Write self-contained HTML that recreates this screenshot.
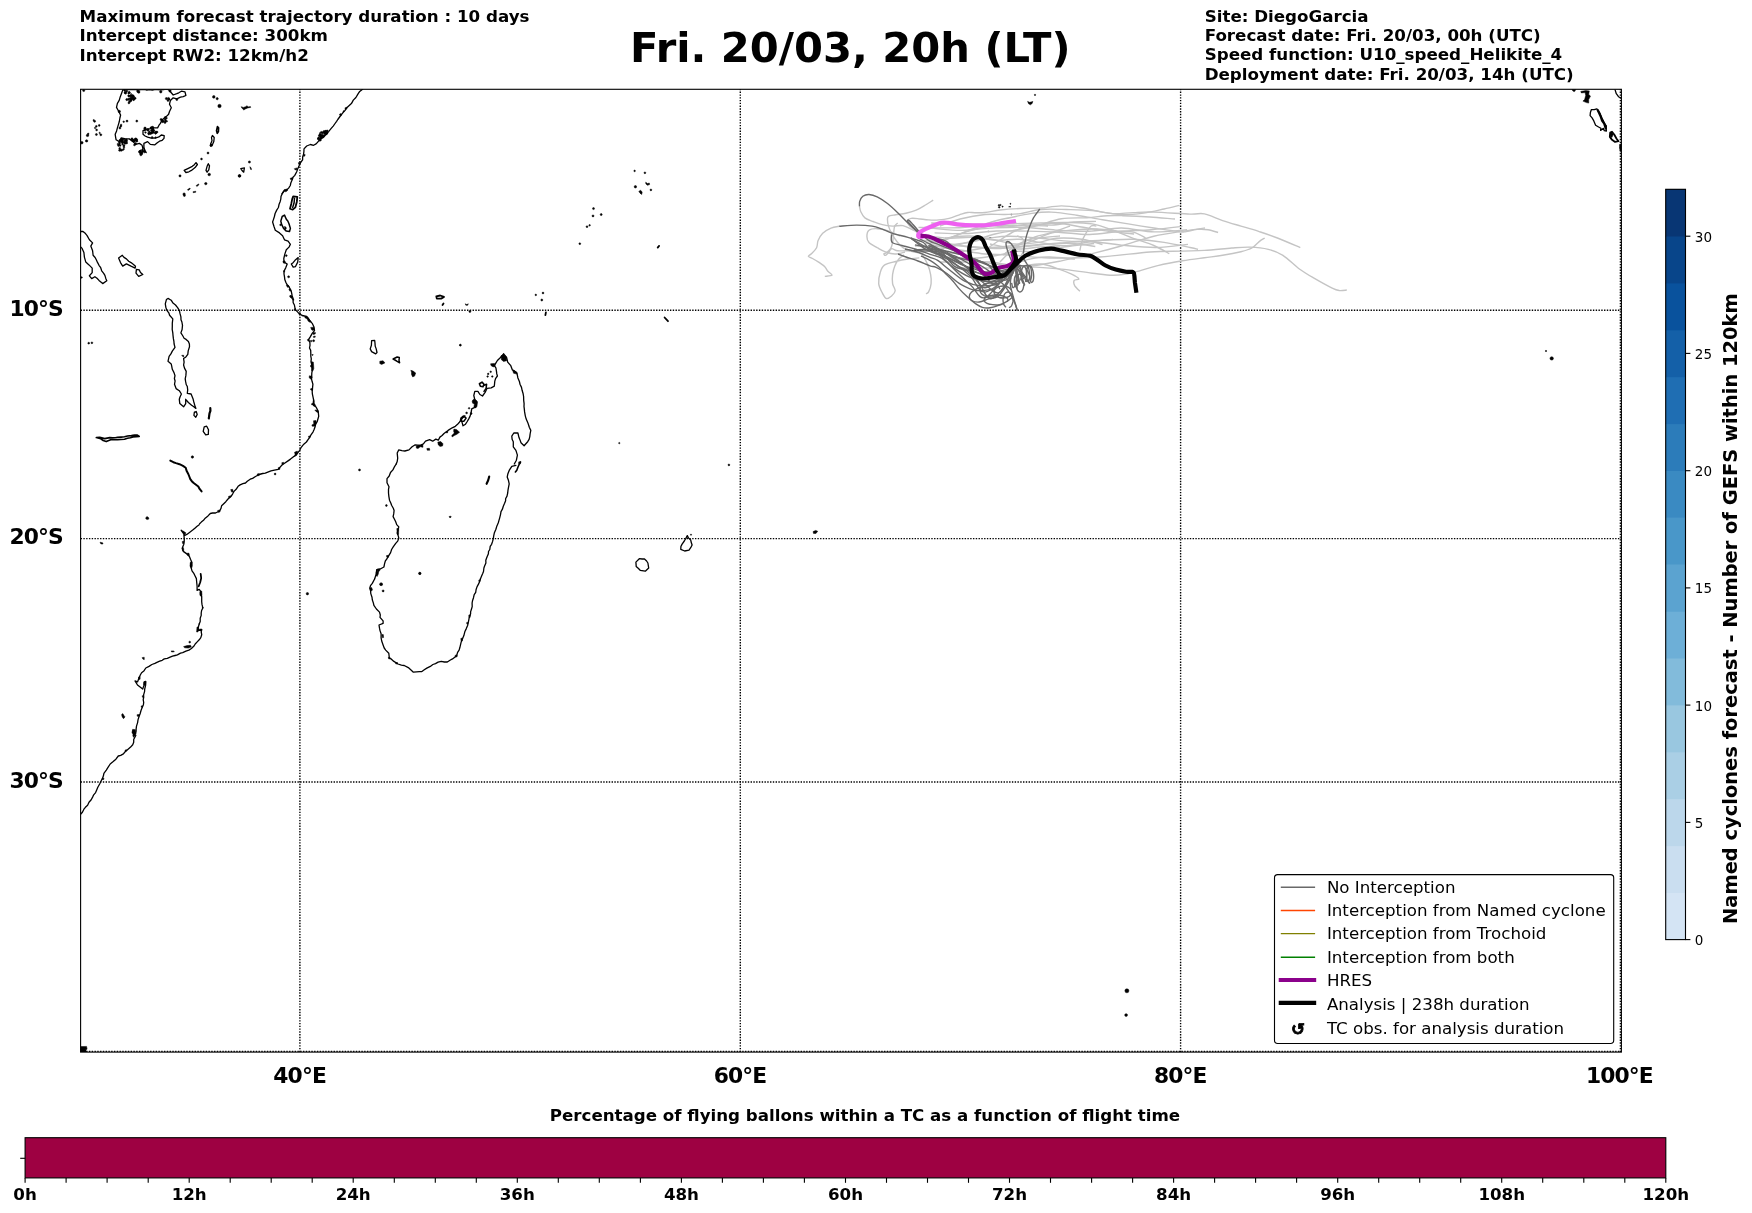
<!DOCTYPE html>
<html lang="en"><head><meta charset="utf-8"><title>Fri. 20/03, 20h (LT)</title>
<style>html,body{margin:0;padding:0;background:#fff}body{width:1752px;height:1213px;overflow:hidden}svg{display:block;will-change:transform;opacity:0.999}text{font-family:"DejaVu Sans","Liberation Sans",sans-serif;fill:#000}.b{font-weight:bold}</style>
</head><body>
<svg width="1752" height="1213" viewBox="0 0 1752 1213">
<rect width="1752" height="1213" fill="#fff"/>
<g class="b" font-size="16.71">
<text x="79.6" y="22.0">Maximum forecast trajectory duration : 10 days</text>
<text x="79.6" y="40.9">Intercept distance: 300km</text>
<text x="79.6" y="61.0">Intercept RW2: 12km/h2</text>
<text x="1204.7" y="22.0">Site: DiegoGarcia</text>
<text x="1204.7" y="40.8">Forecast date: Fri. 20/03, 00h (UTC)</text>
<text x="1204.7" y="60.0">Speed function: U10_speed_Helikite_4</text>
<text x="1204.7" y="80.0">Deployment date: Fri. 20/03, 14h (UTC)</text>
</g>
<text class="b" font-size="41.67" x="629.9" y="62">Fri. 20/03, 20h (LT)</text>
<clipPath id="ax"><rect x="80.6" y="89.3" width="1540.8" height="962.8"/></clipPath>
<g clip-path="url(#ax)">
<g fill="none" stroke="#000" stroke-width="1.3" stroke-linejoin="round" stroke-linecap="round">
<path d="M122.9 89.6 L121.6 93.2 L120.2 96.9 L119.2 100.4 L117.4 103.3 L116.5 107.4 L118.8 111.5 L120.6 115.1 L119.9 118 L119.3 121.5 L118.4 124.6 L117.4 127.9 L116.6 130.9 L115.2 134.3 L115.6 137.1 L116.1 139.8 L119.3 141.6 L121.1 138 L125.7 138.9 L129.3 138.9 L133 141.6 L135.7 144.4 L139.4 143.4 L142.1 145.3 L143 148.9 L142.1 151.7 L140.3 154.4 L143.9 150.8 L146.2 152.6 L144.8 150.1 L143.9 147.1 L143.9 143.4 L147.6 141.6 L150.3 144.4 L154.9 144.8 L157.3 142.7 L159.5 141.2 L162.2 140.3 L164 138.4 L164.2 135.7 L161.3 135 L158.9 136.9 L155.8 138 L151.2 138.2 L147.6 137.1 L145.1 136 L143 134.3 L143 130.7 L147.6 128.8 L150.8 128.6 L153.1 127.9 L157.6 127.9 L159 125.2 L160.4 123.4 L162.2 119.7 L164.4 118 L166.8 116.1 L168.6 114.3 L169.5 111.5 L171.3 107.8 L169.5 104.2 L170.4 100.5 L173.2 97.8 L176.8 98.9 L180.5 97.1 L183.2 96.7 L185.9 95.5 L185 91.8 L181.4 91.2 L178.8 92.8 L176.8 93.7 L173.2 95 L170.4 91.8 L168.6 89.6 L166 89.1 L163.5 89.5 L160.9 89.8 L157.3 89.6 L155.6 89.3 L152.3 90 L149.4 89.7 L146.8 90.1 L144.7 89.5 L141.3 89.4 L139 90.1 L135.9 89.7 L133.9 89.7 L131.3 89.6 L128.8 89.7 L125.7 89.5Z"/>
<path d="M217.4 126.6 L218.6 127.9 L218.4 131.6 L217.3 133.4 L216.5 130.7Z" stroke-width="1.6"/>
<path d="M212.4 135.5 L214.2 137.5 L213.8 141.6 L212.4 144.8 L210.8 146 L210.6 143.9 L212 140.7 L211.5 137.5Z"/>
<path d="M184.1 170.4 L187.8 168.6 L192.3 166.3 L194.3 164.7 L196 162.6 L197.4 164.5 L195.1 167.6 L191.4 170.4 L188.9 171.8 L185.9 172.5Z"/>
<path d="M208.3 163.7 L209.5 165.8 L208.8 169.9 L207.1 172.2 L206 170.4 L207.1 166.3Z"/>
<path d="M362.6 89.2 L359.7 91.4 L357.9 94.1 L355.9 97.5 L353.3 100.1 L351.4 103.6 L348.7 106 L346.5 107.9 L345.1 110.4 L343.2 112.4 L341.1 115 L339.6 117 L337.8 119.5 L336.6 121.3 L334.7 124 L333.2 126.1 L331 128.6 L328.6 131.6 L326.4 134.2 L323.2 137.1 L320.2 139.2 L317.7 142.1 L316.1 143.9 L313.6 145.3 L310.4 144.5 L306.7 146 L304 148.9 L303.9 151.7 L303.5 154.4 L302.7 156.6 L302.6 159.9 L299.9 163.5 L298.8 166.6 L297.6 169 L296.7 171.8 L294.8 175.4 L293 177.2 L292.1 180 L290.8 183 L290.3 185.5 L288.6 188.1 L286.6 190 L283.9 190.9 L282.1 193.7"/>
<path d="M240.8 168.6 L244.4 167.9 L243.7 172.2 L242.3 170.8Z" stroke-width="1.3"/>
<path d="M284.9 190 L282.2 193.7 L281 196.6 L280.8 199.1 L280.2 201.4 L279 204.6 L278.4 207.5 L276.7 210.1 L275.1 213.5 L274.4 216.5 L273.6 219.1 L272.6 222 L274 226.5 L275.3 230.2 L279.5 232.9 L282.6 235.7 L284.5 239.8 L288.1 241.1 L290.4 244.3 L289 247.1 L286.3 249.8 L284.9 253.9 L283.8 258.5 L284 262.1 L287.2 264 L285.8 267.6 L284 271.3 L284 274 L284.5 276.8 L284.8 279.6 L285.8 282.2 L287.2 284.9 L289 286.8 L291.3 291.4 L292.2 295.9 L293.6 300"/>
<path d="M293.2 196.4 L297.3 196.8 L296.8 201.9 L296.1 204.6 L295.4 207.4 L292.7 209.6 L290 208.7 L291.3 203.7 L292.2 199.1Z" stroke-width="1.8"/>
<path d="M294.5 198.2 L294.1 202.8 L292.7 207.4" stroke-width="1.5"/>
<path d="M282.2 216.5 L284.5 215.1 L286.3 219.2 L287.8 221 L289 223.8 L290.4 228.4 L289.5 231.6 L286.3 231.1 L283.6 228.4 L281.7 224.7 L280.8 221.1Z" stroke-width="1.5"/>
<path d="M291.3 264 L293.1 262.7 L295 260.3 L298.2 257.6 L297.7 262.1 L295.4 266.7 L293.2 267.2Z"/>
<path d="M290.3 295.9 L293 299.6 L293.2 302.7 L294.4 305 L295.3 309.6 L298 312.4 L302.1 315.5 L306.7 316.5 L309.5 320.1 L312.2 323.3 L314 327 L314.5 330.6 L312.2 333.4 L310.4 336.6 L308.5 339.7 L309.9 342.5 L310 345.4 L309.5 348 L310.7 350.4 L310.8 353.4 L310.8 356.2 L311.3 358.9 L311 361.3 L311.7 364.4 L312.1 368.1 L312.2 370.8 L311.8 373 L311.7 376.3 L311.5 379 L312.2 381.8 L312.9 384.1 L312.6 387.2 L312.2 391.8 L312.4 394.2 L313.1 397.3 L314 401.8 L313.6 405"/>
<path d="M371.6 340.7 L374.7 340.5 L375 343.2 L375.2 346.1 L376.2 348.9 L377 352.5 L375.7 353.9 L371.6 351.6 L370.2 348.9 L371.4 345.2Z"/>
<path d="M313.6 400 L313.1 404.1 L316.2 407.2 L318.2 411.3 L318.7 416.4 L318 418.8 L317.2 421.6 L315.7 423.8 L315.1 426.7 L314.2 429.3 L313.1 431.8 L311 434.8 L310 437 L308.4 439.2 L306.4 442 L303.8 444.2 L301.2 447.3 L299.7 450.3 L297.5 453.1 L295.6 455.5 L293.2 456.9 L290.5 459.1 L288.4 460.6 L284.9 463 L282.3 464.7 L280.3 466.9 L278.2 469.3 L274.4 470.1 L271 470.9 L267.8 472.1 L265.3 473.2 L262.7 473.5 L259.1 474.5 L255.5 476.5 L252.6 478.4 L250.2 479.2 L247.3 481.2 L245.5 483 L242.9 483.7 L240.1 484.9 L238.1 486.3 L236.1 489.3 L234 491.4 L232.7 493.8 L230.9 496.6 L228 499 L225.8 501.7 L224 503.5 L221.6 505.8 L221 508.4 L219.6 511 L215.5 513 L212.6 513 L210.3 513.5 L208 515.9 L205.2 518.2 L203.5 520.3 L201.3 522.1 L199.6 523.7"/>
<path d="M194.4 412.1 L196.2 411.5 L197.2 414.4 L195.8 417.3 L193.9 415.4Z"/>
<path d="M210.3 408.2 L210.4 410.8 L209.5 413.4 L208.8 418.5" stroke-width="2.2"/>
<path d="M204.2 426.9 L206.7 426.2 L208.5 429.8 L208.3 434.4 L205.7 434.9 L203.2 431.3Z"/>
<path d="M170.3 460.6 L173.4 462.2 L176 463.1 L179.5 464.2 L183 465.9 L185.7 467.8 L186.7 471.1 L188.3 474 L189.3 476.5 L190.3 479.1 L191.8 481.2 L193.4 482.8 L196 484.8 L198.3 486.5 L199.6 488.9 L201.6 491.4" stroke-width="2.0"/>
<path d="M199.2 524.7 L196.8 526.5 L195.2 527.9 L193 529.8 L189.5 532.4 L186.8 534.4 L184.8 535.4 L182.7 531.8 L181.2 530.3 L183.8 533.9 L184.3 539 L184.2 541.3 L183.8 544.2 L182.2 548.3 L183.3 551.4 L186.8 553.9 L189.4 556.5 L190.5 559.3 L191.5 561.6 L190.4 565.8 L191.4 568.7 L192 570.9 L194 573.7 L195.1 576 L196.4 578.6 L196.6 581.2 L197.1 586.3 L197.1 590.4 L199.2 589.4 L200.7 591.4 L200.9 594.5 L201.7 596.6 L201.7 601.7 L202 604.4 L202.8 607.9 L201.6 610.5 L201.2 613 L201.2 615.4 L200.2 618.2 L200.2 621.5 L199.2 624"/>
<path d="M200.7 574 L201.2 578.1 L200.2 582.2 L198.7 586.3" stroke-width="1.8"/>
<path d="M199.2 624 L198.2 627.7 L198.2 630.5 L201.7 629.5 L201.2 631.9 L201.7 634.7 L200.8 637.6 L199.2 639.8 L197.2 641.9 L195.2 644 L194 646 L191.4 648.5 L188.9 650.1 L185.9 651.1 L182.7 652.6 L180.5 653.1 L177.4 654.9 L175.1 655.5 L172.5 656.2 L170.1 657.2 L167.3 658.4 L164.3 658.9 L162.2 660.3 L159.7 661.2 L156.9 662.4 L154.9 663.4 L151.9 664.5 L149 666.4 L145.8 668 L144.1 670.7 L141.6 672.7 L140.3 675 L139.1 677.8 L137.5 681.9 L135 680.9 L137.5 685 L140.1 687 L142.7 689.1 L143.9 685.4 L144.2 681.9 L145.8 681.4 L145.6 685.4 L144.7 689.1 L144.6 691.3 L143.6 694.9 L143.7 697.3 L143.2 699.6 L143.7 702.5 L143.4 704.7 L142.2 707.6 L141.1 710.3 L140.1 713.8 L138.8 717.2 L138 719.9 L137.6 722.6 L136.5 726.1 L136.1 729.2 L136.1 731 L135.5 734"/>
<path d="M135.8 735.4 L133.7 739.5 L133.7 742.2 L132.7 744.7 L130.6 747.1 L127.5 749.8 L124.9 752 L123.4 753.9 L120.7 755.4 L118.3 756 L115.9 759.2 L113.2 761.6 L110.2 764 L108 767.3 L106.3 770.1 L103.9 773.4 L103.5 775.5 L102.4 778.6 L101.2 780.7 L99.8 783.7 L97.8 787.3 L96.7 789.9 L95.6 792.6 L93.7 794.8 L92.6 797.1 L91.2 799.7 L89 802.2 L87.6 805.2 L85.4 807.3 L83.9 809.2 L82.4 812.2 L80.8 814"/>
<path d="M80.6 231.5 L83 231.5 L85.5 233.6 L87.1 235.6 L89.4 239.7 L92.6 242.9 L90.8 246.1 L92.6 250.7 L93.1 255.3 L95.1 257.5 L96.3 259.8 L97.5 262.4 L99 265.3 L100.7 267.7 L101.7 270.8 L103.7 273.4 L104.9 275.4 L105.8 278.4 L106.8 280.8 L102.7 283.6 L99 280.4 L97 278.2 L94.9 276.7 L91.7 278.6 L89.4 275.8 L92.2 272.6 L92.2 268.1 L89 264.9 L85.8 262.1 L84.4 257.1 L83.9 252.5 L82.1 248.4 L80.6 246.9"/>
<path d="M118.6 258 L122.3 255.3 L124 257.4 L126.4 258.9 L128.7 261.2 L131 262.6 L133.5 264.5 L135.5 266.2 L135.1 268.1 L131 266.2 L126.4 263.9 L122.7 266.1 L120.5 262.6Z"/>
<path d="M136.4 269.4 L139.2 269.9 L140.5 272.5 L142.8 274.5 L138.7 276.3 L136 273.1Z"/>
<path d="M168 298.4 L171.2 300.2 L173 303.1 L175.5 305 L177.6 307.6 L179.3 310.4 L180.1 313.9 L180.9 316.8 L181 319.8 L181.9 322 L182.5 325.4 L182.1 329.5 L180.9 332.9 L182.9 336 L184.1 338.2 L186.1 339.4 L188.4 341.4 L189.4 343.9 L189.5 346.8 L188.2 350.9 L187.8 354.3 L185.9 356.9 L183.6 358.6 L184.1 362.2 L183.6 365 L184.5 368.1 L186.2 371.4 L185.9 375.4 L185.2 378.9 L185.6 381.4 L186.2 384.5 L187.3 386.5 L187.7 389.9 L187.3 393.4 L191.1 394 L192.3 397 L193 398.7 L193.7 401.5 L194.7 405.1 L195.9 408.4 L193.5 406.5 L191.6 405.2 L188.4 402.5 L185.7 399.3 L185.7 403.6 L183.6 406.8 L179.8 403.6 L179.3 399.3 L180 397 L181.4 394 L179.3 390.7 L176.1 388.6 L174.5 384.3 L175.1 381 L174.4 378.5 L175 375.7 L174 372.6 L172.3 369.3 L171.7 366.1 L171.2 363.9 L168 361.3 L169.1 356.4 L170.9 353.9 L172.3 351.1 L175 347.3 L174.1 344 L173.9 341.4 L173.4 338.7 L173 335.3 L172.8 332.9 L172.2 329.4 L172.3 326.3 L172.3 323.2 L172.8 318.9 L169.6 315.2 L168.8 312.8 L166.9 310.4 L165.9 307.6 L165.3 303.9 L166.4 299.6Z"/>
<path d="M96.3 437.6 L100.8 438.8 L103.2 440.5 L106.2 441.6 L110.7 439.8 L114.6 439.7 L117.6 439.8 L120.6 439.5 L124.5 439.2 L127.4 438.2 L130.4 437.8 L133 436.9 L136.4 436.8 L139.3 436.4 L137.4 435.1 L134.6 435 L131.4 435.6 L127.5 436 L124.5 436.8 L121.1 437.1 L117.6 437.4 L115.3 437.8 L112.5 437.9 L109.7 437.6 L104.7 438.6 L99.8 437.4Z" stroke-width="1.6"/>
<path d="M503.6 353.9 L506.6 357.5 L507.7 362.1 L510.8 365.7 L512.3 369.8 L514.5 370.9 L516.9 372.9 L517.9 378 L519.4 381.5 L520 384.2 L521.5 387.4 L522.1 390.3 L523 393.2 L523.6 396.5 L523.7 400.3 L524.1 403.7 L524 406.5 L524.3 408.9 L524.6 411.9 L525.3 415.8 L526.2 419.1 L527.7 422.4 L528.7 425.3 L529.3 427.3 L530.8 430.4 L530.1 434 L529.8 436.6 L529.1 439.4 L527.7 441.7 L526.1 443.5 L524.1 445.8 L521 442.7 L520 439.9 L519 437.6 L517.9 433 L513.8 433 L511.8 436.1 L512.1 439.3 L513.3 441.7 L513.3 446.8 L515.9 450.4 L517.4 455.1 L516.4 460.2 L514.3 464"/>
<path d="M503.6 353.9 L500.5 357.5 L497.4 360.5 L496.1 362.6 L494.3 365.7 L495.9 367.8 L496.4 370.8 L496.8 373.9 L497.4 376 L495.7 378.3 L494.8 381.1 L494.3 386.2 L491.2 387.8 L487.1 388.3 L485.1 392.4 L482.5 396 L479.9 394.5 L477.9 391.4 L474.8 391.4 L473.8 395.5 L474.8 399.6 L476.8 401.6 L476.5 404 L475.8 406.8 L471.7 408.8 L471.4 411 L470.7 414 L470 416.4 L468.6 419.1 L466.9 422 L465.5 424.2 L463 425.8 L462 422.2 L460.4 420.1 L462.5 416.5 L465 416 L462.5 418.1 L459.4 422.2 L457.3 424.6 L455.3 426.3 L452.2 427.8 L448.1 430.4 L444 433.5 L442.1 435.5 L439.9 437.1 L438.3 440.2 L435.8 439.1 L432.7 441.2 L429.6 439.7 L425.5 441.2 L423.4 443.8 L420.3 445.3 L415.2 444.8 L412.1 446.8 L409 449.9 L404.9 451 L401.9 450.6 L398.8 449.9 L397.2 453 L397.4 455.1 L397.7 458.2 L397.2 461.5 L396.2 464"/>
<path d="M479.4 383.7 L482 382.1 L484 384.2 L483 386.7 L480.4 386.2Z" stroke-width="1.6"/>
<path d="M484 385.2 L486.6 384.2 L486.1 388.3 L484 391.4" stroke-width="1.5"/>
<path d="M460.9 418.1 L464 416.2 L466.1 418.1 L464 421.2 L461.4 421.2Z" stroke-width="1.5"/>
<path d="M393.1 359 L397.2 357 L399.3 357.5 L399 360.4 L399.6 362.8 L397.2 361.4 L395 360Z" stroke-width="1.5"/>
<path d="M396.2 464 L394.7 466.3 L392.9 469.9 L390.5 472.5 L389.2 476 L387 478.6 L387 482.7 L389 486.8 L388.5 489.4 L388.5 493 L388.9 496.6 L389.5 500.2 L390.9 503.3 L391.6 505.3 L393.3 508.3 L394.1 510.5 L393.7 513.9 L393.1 516.6 L394.2 518.8 L395.7 521.8 L396.7 524.6 L398.8 526.9 L397.9 530.2 L397.2 533.1 L398.2 535.7 L398.8 538.2 L397.7 541.1 L395.7 543.4 L393.2 546.9 L391.6 549.5 L390.6 552.6 L388.5 556.2 L386.8 559 L385.4 560.8 L384.6 563.6 L383.9 567 L380.3 569 L376.7 569.6 L376.2 574.2 L374.6 579"/>
<path d="M515.9 465.3 L511.8 466.3 L509.2 470.4 L507.8 474.1 L507.2 477.1 L508.5 480.6 L509.2 483.8 L508.5 487.3 L508 490.1 L507.7 493 L507 496.1 L505.6 498.7 L505.6 500.8 L504.6 503.3 L503.3 506.2 L502.4 509.2 L501 511.6 L500.5 514.6 L499.7 517.8 L498.9 520.7 L498.3 522.8 L496.9 525.9 L495.9 529.3 L494.3 533.1 L493.7 535.9 L493.3 538.7 L492.6 541.4 L491.6 544.3 L490.2 546.4 L489.8 549.5 L488.5 551.5 L488.4 553.7 L487.1 556.7 L485.8 560.2 L485.9 562.9 L484.6 566 L483.9 568 L483.5 571.5 L482.7 573.5 L481.5 576.2 L480.4 579"/>
<path d="M520.5 462.2 L519 464.7 L517.9 467.3 L516.8 470.2 L515.4 472" stroke-width="1.6"/>
<path d="M489.2 476.6 L488.2 480.2 L486.6 483.8" stroke-width="2.1"/>
<path d="M374.6 579 L372.3 583.4 L370.5 585.7 L369.8 588 L370.6 591 L370.8 593.6 L372 597.2 L372.3 599.8 L373.4 603.1 L373.9 605.4 L376.4 609 L379.5 612.1 L380.3 615 L380 617.3 L383.1 620.9 L383.1 623.4 L379 625 L379.5 628.2 L380 630.6 L381.1 633.8 L381.1 637.8 L381.7 641 L383.1 645 L384.2 648 L385.7 650.1 L388.8 653.2 L389.3 657.8 L391.7 659.4 L393.9 661.4 L398 664 L401.4 665.1 L404.2 665.5 L408.3 667.6 L411 670 L413.4 672.2 L416.5 671.9 L419.4 671.7 L421.6 671.7 L423.9 670 L426.8 668.1 L430.3 666.4 L432.9 664.5 L435.5 663.6 L438.1 662.1 L441.2 661.4 L444.3 662 L447.3 662 L450.4 660 L452.5 658.9 L456.6 655.8 L457.6 652.4 L459.1 650.1 L459.8 647.8 L460.5 644.9 L461.2 641.9 L462.6 638.6 L463.8 635.8 L464.8 631.8 L466.3 628.6 L467.6 625.5 L468.2 622.9 L468.9 619.3 L469.3 617.2 L470.6 613.8 L470.6 611.9 L471.5 609 L472.2 606.6 L472.1 603 L472.5 600.8 L473.5 597.7 L474.2 594.6 L475.7 592.3 L476.1 589.5 L477.1 586.6 L478.6 583.9 L479.7 581.3 L480.4 579"/>
<path d="M657.7 247.6 L659.1 245.9" stroke-width="1.8"/>
<path d="M436.3 296.4 L440.2 295.5 L444 296.9 L441.1 298.6 L436.8 298.6Z" stroke-width="1.8"/>
<path d="M442.5 305 L443.5 303.4" stroke-width="1.8"/>
<path d="M545.9 312.3 L545.4 315.2" stroke-width="1.8"/>
<path d="M664.6 317.5 L668 321.2" stroke-width="1.8"/>
<path d="M687.3 535.6 L688.5 538.1 L690.7 539.9 L691.1 542 L692.1 545 L690.7 547.7 L689 550.1 L684.7 551 L680.8 549.3 L680.9 546.5 L682.1 544.1 L684.3 541 L685.5 539Z"/>
<path d="M635.9 562.1 L639.3 558.7 L642.1 559 L644.5 559 L646.6 561 L647.9 563 L648.7 568.1 L645.3 571.2 L640.2 570.3 L638.2 568.2 L636.2 566.4Z"/>
<path d="M1591.3 109.7 L1594.2 109.6 L1596.9 108.8 L1598.4 111 L1600 113.6 L1601.2 117.1 L1603 120.1 L1604.3 123.3 L1606.4 125.8 L1606.1 128.1 L1606.4 131.1 L1604.3 130.7 L1603.4 128.3 L1600.6 130.4 L1600.9 128.3 L1598.6 127 L1595.6 125.2 L1593.8 120.9 L1592.1 117.9 L1590.1 115.6 L1590.4 112.5Z"/>
<path d="M1597.8 110.3 L1599.3 113.2 L1600.9 116.8 L1602.1 120.5 L1604.3 123.6 L1605.8 128.3" stroke-width="2.4"/>
<path d="M1610.2 132.6 L1612 131.7 L1614.2 134.5 L1616.6 138.8 L1618.5 141.2 L1615.1 141.9 L1611.7 139.4 L1609.8 136.9Z" stroke-width="1.8"/>
<path d="M1615.1 89.9 L1616.3 93.7 L1618.5 96.7 L1621.3 98.3"/>
</g>
<g fill="#000" stroke="#000" stroke-width="0.5" stroke-linejoin="round">
<path d="M196.2 185.5 L198.6 183.9 L199 184.7 L196.8 186.5Z"/>
<path d="M187.5 189.6 L189.9 188.1 L190.3 188.9 L188 190.4Z"/>
<path d="M193 191.7 L195.7 191.2 L195.8 192.2 L193.2 192.7Z"/>
<path d="M339.4 114.3 L340.9 113.6 L341.6 115 L340.5 116.2Z"/>
<path d="M344.9 107.9 L346.7 107.2 L347.1 108.8 L345.4 109.5Z"/>
<path d="M343 111.1 L344.1 110.6 L344.2 111.8 L343.2 112.2Z"/>
<path d="M303.3 154.6 L305.1 154.4 L304.9 156 L303.6 156.4Z"/>
<path d="M298.3 162.7 L300.5 162 L300.5 163.8 L298.7 164.3Z"/>
<path d="M294.3 168.7 L296.9 167.9 L297.1 169.4 L295.2 169.9Z"/>
<path d="M290.2 178.3 L292.7 177.5 L292.7 179.3 L290.7 179.7Z"/>
<path d="M283.9 190.1 L286.5 189 L287.9 190.1 L285.8 191.9Z"/>
<path d="M241.1 106.7 L243.4 107.4 L245.6 106.7 L247.1 105.7 L248.2 106.9 L250.4 106.5 L250.7 107.4 L247.8 107.9 L245.3 109.1 L243.8 110 L242.3 108.6Z"/>
<path d="M249.8 166.7 L251.1 167.8 L251.5 169.6 L250.6 169.4Z"/>
<path d="M284.3 226.5 L286 227 L286.3 228.8 L285.1 229.3Z"/>
<path d="M282.9 261.3 L284.6 260.7 L285.5 262.1 L284.3 263.5 L283.2 262.7Z"/>
<path d="M286.3 285.4 L288 284.8 L289.2 286.5 L287.7 287.4Z"/>
<path d="M288.9 289.1 L290.6 288.9 L291.1 290.9 L289.7 291.1Z"/>
<path d="M289.6 296.2 L291 295.9 L291.3 297 L290.2 297.4Z"/>
<path d="M283.5 270.8 L284.6 270.5 L284.7 272.1 L283.8 272.1Z"/>
<path d="M290.1 295.8 L291.8 295.5 L292.4 296.9 L290.9 297.2Z"/>
<path d="M294.1 309 L295.5 308.5 L296.1 310.2 L294.7 310.7Z"/>
<path d="M298.7 313.2 L300.4 312.9 L300.6 314.3 L299.2 314.9Z"/>
<path d="M304.9 316.7 L307.7 317 L309.5 319.6 L310.8 321.6 L310.3 322.4 L308.3 321.3 L306.9 318.7 L304.9 317.8Z"/>
<path d="M310.7 327.4 L313.8 327.2 L314.4 329.7 L312.9 330.5 L311.5 329.7Z"/>
<path d="M313 332.8 L315.5 332.6 L315.2 334 L313.2 334.5Z"/>
<path d="M313.3 336.4 L315.2 336 L315.2 337.2 L313.6 337.5Z"/>
<path d="M307.4 339.6 L309.1 339.3 L309.3 340.8 L307.9 341.1Z"/>
<path d="M311.8 354.6 L313.2 354.5 L312.6 355.7Z"/>
<path d="M311 361.7 L313.3 362 L313.6 365.1 L313.8 368.5 L313 370.8 L311.6 370.8 L311.9 367.4 L310.5 366.8 L310.7 365.1 L311.6 364.6Z"/>
<path d="M309.3 375.8 L311.8 376.2 L312.2 378.1 L310.5 378.9 L309.2 377.8Z"/>
<path d="M310.3 388.9 L312.2 388.3 L312.8 390 L311.1 390.3Z"/>
<path d="M311.7 403.6 L314.8 403.9 L314.8 404.7 L311.5 404.7Z"/>
<path d="M379.8 361.2 L383.1 360.8 L384.9 362.9 L381.7 364.4 L379.8 363.6Z"/>
<path d="M312.1 404.1 L314.1 403.5 L315.7 405.4 L314.1 406.6Z"/>
<path d="M314.8 410 L318 410.3 L318.2 412.6 L316.5 411.9Z"/>
<path d="M313.5 420.8 L316 420.5 L316.3 423.3 L315.1 426.2 L312.2 426.2 L311.9 424.9 L313.8 423.9Z"/>
<path d="M294.5 452.3 L297.3 451 L297.6 453.5 L296.3 455.5 L294.5 456.1 L295.1 454.2Z"/>
<path d="M281.8 462.7 L283.7 462.3 L283.4 464.2 L282.1 464.5Z"/>
<path d="M278.2 467.7 L280.1 467.4 L279.8 469.4 L278.6 469.4Z"/>
<path d="M257.2 474 L259.2 473.6 L259.2 475.5 L257.5 475.8Z"/>
<path d="M230.7 489.6 L232.6 489.3 L233.3 491.8 L231.6 492.1Z"/>
<path d="M228.5 496.4 L230.7 495.7 L230.4 497.3 L228.8 497.9Z"/>
<path d="M217.7 510.4 L220 510.1 L220 512 L218 512.3Z"/>
<path d="M308.4 436.3 L310 435.9 L309.8 437.2 L308.8 437.4Z"/>
<path d="M182 531 L183.2 531.1 L185.8 532.7 L185.4 534 L183.9 533.7Z"/>
<path d="M182.2 541.6 L183.9 541.3 L183.9 543.6 L182.6 543.6Z"/>
<path d="M182.2 548.1 L183.5 547.7 L183.8 550.6 L182.5 550.9Z"/>
<path d="M186.4 553.4 L188.9 553.1 L189.5 555.4 L187.7 555.4Z"/>
<path d="M190.4 562.2 L192.3 561.9 L192.3 566 L191.7 568 L190.4 566.7 L190.1 564.1Z"/>
<path d="M199.8 591.7 L201.7 591 L202 595.5 L200.4 596.1 L199.8 594.2Z"/>
<path d="M202.1 607.1 L203.4 607.5 L202.8 608.4Z"/>
<path d="M145.7 517.8 L147 516.5 L148.5 517.5 L148.9 519 L147.3 519.6 L146 519Z"/>
<path d="M100 542.2 L101.6 542.5 L103 543 L102.7 544.1 L100.9 543.9Z"/>
<path d="M197 627 L198.6 627 L197.9 632 L196.6 632Z"/>
<path d="M199.4 629 L201.7 629 L201.7 630.6 L199.7 630.6Z"/>
<path d="M183.6 646.6 L187.1 645.6 L190.6 645.3 L191.3 646.9 L188.4 648.1 L184.6 647.8Z"/>
<path d="M171.2 650.9 L173.8 650.9 L174.3 651.8 L171.6 652Z"/>
<path d="M142 657.7 L144.2 657.2 L144.3 659.6 L143.1 659.3Z"/>
<path d="M138.5 677 L140.1 676.7 L140.1 679.2 L138.8 679.5Z"/>
<path d="M143.8 682.3 L145.7 682 L145.4 685.1 L144 685.4Z"/>
<path d="M142.2 695.8 L143.5 695.6 L143.4 697.3 L142.4 697.3Z"/>
<path d="M141.2 705.9 L142.5 705.8 L142.4 707.2 L141.3 707.3Z"/>
<path d="M137 714.7 L139.4 714.4 L139.1 716.3 L137.3 716.3Z"/>
<path d="M121.6 714.6 L122.8 713.6 L123.8 715.3 L125 716.9 L123.5 718.7 L122.2 716.9Z"/>
<path d="M132.6 729.3 L135.4 729.7 L135.2 732.9 L132.2 732.9Z"/>
<path d="M132.4 730.6 L135 730.3 L135.6 733.5 L135 735.8 L133.4 737.3 L132.8 735.4 L133.1 733.8 L132.1 733.2Z"/>
<path d="M125 750.1 L126.6 749.7 L126.6 751 L125.3 751.5Z"/>
<path d="M81 276.7 L82.3 277 L82.2 278 L81 278.2Z"/>
<path d="M181.7 355.3 L183.7 355.3 L183.8 356.9 L182.7 356.6Z"/>
<path d="M501 355.8 L503.6 354.5 L506.2 356.7 L506.7 360.7 L503.6 361.5 L501.4 359.7Z"/>
<path d="M490.6 363.8 L494.5 363.4 L495.1 366 L493.2 366.9 L491 365.6Z"/>
<path d="M472.1 401 L473.5 399.3 L475.6 399.7 L477.4 401.9 L477 406.3 L475.6 408 L473.9 406.7 L474.4 404.1 L472.6 403.2Z"/>
<path d="M453.9 429.1 L456.5 429.5 L459.6 432.2 L456.9 434.3 L454.3 435.6 L452.2 436.9 L451.7 435.6 L454.3 433 L453.6 431.2Z"/>
<path d="M446.1 431.5 L447.9 431.3 L447.5 432.9 L446.3 432.9Z"/>
<path d="M437.8 442.1 L440.8 441.6 L443 443.8 L442.5 446 L440 446.4 L438.2 444.7Z"/>
<path d="M426.8 448.5 L429.4 448.3 L429.8 450.2 L427.2 450.2Z"/>
<path d="M416.3 445.9 L419.3 445.1 L422.8 445.1 L423 447.3 L420.2 446.8 L418 448.6 L416.3 448.1Z"/>
<path d="M512.7 370.6 L516.6 371.9 L517 374.1 L513.6 373.3Z"/>
<path d="M518.7 461.9 L520.8 461.4 L520.4 463.8 L518.7 463.8Z"/>
<path d="M410.8 370.3 L413.1 371.1 L415.7 373 L414.6 376.1 L412.7 376.9 L411.5 374.5 L411.5 372.2Z"/>
<path d="M449 516.7 L450.1 516.1 L451.3 516.7 L450.1 518Z"/>
<path d="M377.1 569.2 L379.6 568.9 L379.9 570.5 L378.6 571.7 L377.1 571.4Z"/>
<path d="M396.8 528.6 L398.7 528.3 L398.6 534.4 L397.3 534.4Z"/>
<path d="M386.5 555.6 L388.5 555.3 L388.5 557.2 L386.8 557.2Z"/>
<path d="M369.8 588 L371.6 587.5 L372.5 589.7 L371.6 591 L370.3 590Z"/>
<path d="M376.1 571.8 L378.6 571.4 L378.3 574 L377.1 576.5 L376.1 575.3Z"/>
<path d="M381.9 634.6 L383.3 634.6 L383.6 637.5 L382.4 637.8Z"/>
<path d="M388.3 657.3 L389.9 657.3 L390.2 658.9 L388.7 658.9Z"/>
<path d="M395.5 662.5 L397.5 662.5 L397.5 664 L395.8 664Z"/>
<path d="M455.1 655.3 L457.1 654.9 L457.1 656.8 L455.4 657.1Z"/>
<path d="M460.8 638.5 L462.7 637.9 L462.3 641 L461.1 641Z"/>
<path d="M478.7 580.2 L480.2 579.8 L479.9 581.8 L479 581.8Z"/>
<path d="M466.7 622.4 L468 622.4 L467.8 624 L466.8 624Z"/>
<path d="M468.8 615 L470.3 615 L470.1 617.5 L469 617.5Z"/>
<path d="M645.7 182.2 L647.5 183.6 L649.3 183 L649.6 184.6 L647.5 185.3 L645.9 184Z"/>
<path d="M638.8 191.4 L640.6 190.2 L642.2 192.1 L641.7 194.5 L640.1 193.2Z"/>
<path d="M465.2 303.8 L466.8 304.6 L468.3 303.8 L467.7 305.3 L465.9 305.3Z"/>
<path d="M813.1 531.6 L815.7 530.4 L817.7 531.3 L816 533.4 L813.5 533.4Z"/>
<path d="M1571.9 89.6 L1575.8 89.6 L1574.6 91.6 L1573.1 91.2Z"/>
<path d="M1580.8 91.4 L1585.7 90.6 L1589.3 90.9 L1588.7 94.4 L1590.5 96.1 L1588.7 99.6 L1588.7 103.1 L1586.4 102.6 L1582.9 101.1 L1584.6 99.6 L1585.7 95.5 L1585.1 92.6 L1581.3 92.9Z"/>
<path d="M1610.3 132.7 L1612 132.1 L1613.1 134.5 L1612 137.4 L1610.6 136.8Z"/>
<path d="M1619.7 144.2 L1621.4 143.9 L1621.4 151.6 L1620 150.9 L1619.5 147.4Z"/>
<circle cx="133.6" cy="96.5" r="0.85"/>
<circle cx="130.7" cy="100.8" r="0.99"/>
<circle cx="134.2" cy="98.4" r="0.98"/>
<circle cx="133.2" cy="96.2" r="1.07"/>
<circle cx="126.8" cy="99.6" r="1.07"/>
<circle cx="130.1" cy="96.1" r="0.81"/>
<circle cx="130.6" cy="99.1" r="0.72"/>
<circle cx="128.7" cy="96.1" r="0.83"/>
<circle cx="132.4" cy="95.7" r="1.1"/>
<circle cx="129.6" cy="101.6" r="0.96"/>
<circle cx="135.1" cy="98.3" r="1.02"/>
<circle cx="132.7" cy="97" r="0.89"/>
<circle cx="131.2" cy="100.1" r="0.62"/>
<circle cx="130.4" cy="95.6" r="0.87"/>
<circle cx="130" cy="98.5" r="0.85"/>
<circle cx="133.7" cy="99.4" r="0.8"/>
<circle cx="131.1" cy="94" r="0.62"/>
<circle cx="132" cy="98" r="0.69"/>
<circle cx="133.6" cy="99.6" r="1.03"/>
<circle cx="128.7" cy="99.3" r="1.08"/>
<circle cx="131.9" cy="98.7" r="0.73"/>
<circle cx="131.3" cy="99.8" r="0.81"/>
<circle cx="131.8" cy="95.9" r="0.85"/>
<circle cx="131" cy="97.6" r="0.77"/>
<circle cx="132.2" cy="98.7" r="0.61"/>
<circle cx="128.7" cy="95.6" r="0.89"/>
<circle cx="128.9" cy="102.9" r="0.94"/>
<circle cx="128.7" cy="93.1" r="0.93"/>
<circle cx="125" cy="92.7" r="0.9"/>
<circle cx="126.9" cy="91.1" r="0.82"/>
<circle cx="125.6" cy="93.1" r="1.1"/>
<circle cx="129.5" cy="92.5" r="0.82"/>
<circle cx="124.8" cy="90.6" r="0.61"/>
<circle cx="126.1" cy="91.6" r="0.79"/>
<circle cx="129.1" cy="92.4" r="0.88"/>
<circle cx="124.5" cy="90.6" r="0.76"/>
<circle cx="137.7" cy="91.8" r="0.78"/>
<circle cx="139.4" cy="91.9" r="0.63"/>
<circle cx="137.8" cy="91" r="1.1"/>
<circle cx="138.8" cy="92.4" r="0.84"/>
<circle cx="119.8" cy="140.2" r="0.8"/>
<circle cx="121.5" cy="150.2" r="1.0"/>
<circle cx="125.1" cy="141.6" r="0.87"/>
<circle cx="120.2" cy="141" r="0.65"/>
<circle cx="119.6" cy="150.3" r="1.01"/>
<circle cx="119.4" cy="142.7" r="0.91"/>
<circle cx="126.3" cy="140" r="0.9"/>
<circle cx="124.2" cy="145.1" r="0.69"/>
<circle cx="122.2" cy="140" r="1.07"/>
<circle cx="120.4" cy="150.1" r="0.89"/>
<circle cx="122.5" cy="144" r="0.9"/>
<circle cx="121.8" cy="140.9" r="0.75"/>
<circle cx="120.2" cy="145.5" r="0.84"/>
<circle cx="119.4" cy="144" r="0.7"/>
<circle cx="123.8" cy="142.3" r="0.78"/>
<circle cx="124.9" cy="142.8" r="0.88"/>
<circle cx="126.5" cy="140.1" r="0.63"/>
<circle cx="119.7" cy="148.3" r="0.91"/>
<circle cx="119.8" cy="143" r="0.69"/>
<circle cx="122" cy="139.4" r="0.95"/>
<circle cx="123.7" cy="149" r="0.75"/>
<circle cx="119.3" cy="144.4" r="0.67"/>
<circle cx="125.3" cy="143.4" r="0.75"/>
<circle cx="121.7" cy="141.5" r="0.63"/>
<circle cx="124.2" cy="140.7" r="0.62"/>
<circle cx="122.4" cy="142" r="1.1"/>
<circle cx="118.6" cy="145.4" r="0.99"/>
<circle cx="122.2" cy="141.9" r="0.81"/>
<circle cx="117.8" cy="144.1" r="0.72"/>
<circle cx="122.4" cy="139.3" r="0.73"/>
<circle cx="119.8" cy="141.5" r="0.72"/>
<circle cx="126.2" cy="140.6" r="0.63"/>
<circle cx="122.4" cy="140" r="0.71"/>
<circle cx="126.7" cy="143" r="0.93"/>
<circle cx="124" cy="147.3" r="0.73"/>
<circle cx="124.1" cy="139.6" r="0.68"/>
<circle cx="123.8" cy="145.9" r="0.97"/>
<circle cx="126.8" cy="141.6" r="0.6"/>
<circle cx="126.3" cy="140.3" r="1.0"/>
<circle cx="123" cy="149.7" r="0.7"/>
<circle cx="135.6" cy="143.6" r="1.0"/>
<circle cx="134.5" cy="144.9" r="0.92"/>
<circle cx="134.5" cy="140.5" r="0.87"/>
<circle cx="135.3" cy="139" r="0.71"/>
<circle cx="136.7" cy="139.9" r="1.0"/>
<circle cx="132" cy="138.9" r="1.04"/>
<circle cx="132.6" cy="140.3" r="1.09"/>
<circle cx="136" cy="140.2" r="1.07"/>
<circle cx="133.7" cy="140" r="0.67"/>
<circle cx="135.5" cy="138.9" r="0.94"/>
<circle cx="133.6" cy="140.9" r="1.01"/>
<circle cx="134.6" cy="140.9" r="0.84"/>
<circle cx="136.2" cy="139.3" r="1.09"/>
<circle cx="136.9" cy="141.2" r="0.89"/>
<circle cx="133.6" cy="141.2" r="0.86"/>
<circle cx="155.5" cy="133.3" r="0.84"/>
<circle cx="153.6" cy="130.5" r="0.98"/>
<circle cx="149.3" cy="132.9" r="0.74"/>
<circle cx="155.6" cy="132.6" r="0.81"/>
<circle cx="151.8" cy="132.2" r="0.7"/>
<circle cx="152" cy="133.2" r="0.73"/>
<circle cx="155.6" cy="132.2" r="1.02"/>
<circle cx="155.6" cy="133.2" r="0.82"/>
<circle cx="145.3" cy="128.2" r="0.92"/>
<circle cx="152.5" cy="128.2" r="0.93"/>
<circle cx="153.3" cy="132.3" r="1.0"/>
<circle cx="149.2" cy="131.5" r="0.75"/>
<circle cx="152.5" cy="127.3" r="1.04"/>
<circle cx="151.6" cy="127.6" r="0.93"/>
<circle cx="151" cy="127.7" r="0.7"/>
<circle cx="156.5" cy="132.3" r="0.61"/>
<circle cx="148.8" cy="134" r="0.91"/>
<circle cx="148.4" cy="129.7" r="0.79"/>
<circle cx="144.7" cy="130.1" r="0.97"/>
<circle cx="156.9" cy="132.1" r="1.04"/>
<circle cx="150.4" cy="133.4" r="1.0"/>
<circle cx="151.4" cy="130.5" r="0.95"/>
<circle cx="151" cy="133" r="0.69"/>
<circle cx="152.5" cy="129.6" r="0.73"/>
<circle cx="147.6" cy="130" r="1.04"/>
<circle cx="152.8" cy="128.8" r="0.84"/>
<circle cx="150.9" cy="127.8" r="0.79"/>
<circle cx="148.4" cy="133.2" r="0.76"/>
<circle cx="152.7" cy="129.2" r="0.8"/>
<circle cx="151" cy="133.1" r="1.07"/>
<circle cx="145.5" cy="132.5" r="0.78"/>
<circle cx="144.8" cy="128.2" r="1.07"/>
<circle cx="152.9" cy="130.1" r="0.99"/>
<circle cx="153" cy="131.6" r="0.67"/>
<circle cx="153.1" cy="127.4" r="0.65"/>
<circle cx="153.3" cy="130.4" r="1.05"/>
<circle cx="153.1" cy="132.4" r="0.66"/>
<circle cx="165.2" cy="117.4" r="0.87"/>
<circle cx="161.1" cy="119.5" r="1.01"/>
<circle cx="165" cy="122.6" r="0.89"/>
<circle cx="166.4" cy="118.1" r="0.89"/>
<circle cx="165.1" cy="119.2" r="0.87"/>
<circle cx="161.9" cy="121" r="0.81"/>
<circle cx="162.7" cy="120.5" r="0.83"/>
<circle cx="162.6" cy="121.7" r="0.95"/>
<circle cx="162.2" cy="120.4" r="0.86"/>
<circle cx="166.8" cy="121.3" r="0.74"/>
<circle cx="163.5" cy="121.5" r="0.68"/>
<circle cx="165.3" cy="121.5" r="0.89"/>
<circle cx="165.5" cy="120.5" r="0.89"/>
<circle cx="169.3" cy="99.3" r="0.83"/>
<circle cx="168.5" cy="98.4" r="1.02"/>
<circle cx="168" cy="100.7" r="0.79"/>
<circle cx="166.4" cy="98.6" r="1.1"/>
<circle cx="167.9" cy="99.9" r="0.77"/>
<circle cx="142.8" cy="151.4" r="0.67"/>
<circle cx="140" cy="152.6" r="0.91"/>
<circle cx="144.5" cy="151.9" r="0.96"/>
<circle cx="140.2" cy="152.2" r="1.06"/>
<circle cx="142.2" cy="153.8" r="0.65"/>
<circle cx="141.5" cy="153.3" r="0.96"/>
<circle cx="142.5" cy="149.5" r="0.73"/>
<circle cx="140.9" cy="150.8" r="1.0"/>
<circle cx="140.9" cy="154.8" r="1.04"/>
<circle cx="139.8" cy="151.4" r="0.85"/>
<circle cx="139.6" cy="151.7" r="1.05"/>
<circle cx="120.8" cy="126.2" r="0.89"/>
<circle cx="119.9" cy="128" r="1.01"/>
<circle cx="121.1" cy="125" r="0.86"/>
<circle cx="127" cy="121.1" r="1.0"/>
<circle cx="136.8" cy="121.1" r="1.0"/>
<circle cx="123.7" cy="121.7" r="0.8"/>
<circle cx="160.8" cy="91.8" r="1.2"/>
<circle cx="170" cy="90.9" r="1.2"/>
<circle cx="176.8" cy="99.6" r="1.0"/>
<circle cx="119.3" cy="111.5" r="1.2"/>
<circle cx="152.1" cy="137.5" r="0.9"/>
<circle cx="155.8" cy="137.5" r="0.8"/>
<circle cx="94.6" cy="121.3" r="1.0"/>
<circle cx="96.3" cy="126.3" r="0.9"/>
<circle cx="99.2" cy="125.4" r="0.9"/>
<circle cx="96.6" cy="129.9" r="0.9"/>
<circle cx="96.4" cy="134.5" r="1.0"/>
<circle cx="100.8" cy="134.8" r="1.0"/>
<circle cx="99.6" cy="132.9" r="0.7"/>
<circle cx="87.5" cy="135.4" r="1.2"/>
<circle cx="86.6" cy="140.9" r="1.2"/>
<circle cx="81.8" cy="142.7" r="1.3"/>
<circle cx="83.7" cy="90.5" r="1.1"/>
<circle cx="93.7" cy="120.2" r="0.7"/>
<circle cx="95.1" cy="127.9" r="0.7"/>
<circle cx="88.2" cy="133.9" r="0.8"/>
<circle cx="213.8" cy="96.9" r="1.3"/>
<circle cx="217.2" cy="98.7" r="1.1"/>
<circle cx="219.5" cy="106" r="1.7"/>
<circle cx="211.2" cy="145.3" r="1.3"/>
<circle cx="208" cy="153" r="1.0"/>
<circle cx="201.5" cy="159" r="0.9"/>
<circle cx="180" cy="175.9" r="1.1"/>
<circle cx="209.2" cy="174.5" r="1.3"/>
<circle cx="205.8" cy="183.6" r="1.2"/>
<circle cx="184.1" cy="194.1" r="1.2"/>
<circle cx="239.4" cy="175.9" r="1.3"/>
<circle cx="327.4" cy="130.9" r="0.83"/>
<circle cx="319.3" cy="135.7" r="0.89"/>
<circle cx="319.7" cy="139.8" r="0.98"/>
<circle cx="318.3" cy="138.5" r="0.67"/>
<circle cx="323.9" cy="131.1" r="0.6"/>
<circle cx="327" cy="132" r="0.71"/>
<circle cx="319.9" cy="140.3" r="0.87"/>
<circle cx="324.6" cy="132" r="1.07"/>
<circle cx="327.3" cy="133" r="0.78"/>
<circle cx="324.6" cy="133.4" r="0.75"/>
<circle cx="320.2" cy="135" r="0.95"/>
<circle cx="326" cy="133.7" r="0.89"/>
<circle cx="318.7" cy="138" r="1.06"/>
<circle cx="320.7" cy="135.5" r="0.99"/>
<circle cx="320.5" cy="139.9" r="0.87"/>
<circle cx="320.1" cy="133.2" r="0.69"/>
<circle cx="321.3" cy="132.3" r="0.9"/>
<circle cx="326" cy="130.9" r="0.82"/>
<circle cx="318.1" cy="139" r="0.75"/>
<circle cx="321.9" cy="135.1" r="0.96"/>
<circle cx="322.2" cy="132.9" r="0.8"/>
<circle cx="324" cy="135.2" r="0.77"/>
<circle cx="320.7" cy="138.3" r="0.99"/>
<circle cx="325.6" cy="133.7" r="0.95"/>
<circle cx="319.8" cy="135" r="0.98"/>
<circle cx="324.8" cy="132.9" r="1.07"/>
<circle cx="324.3" cy="136.1" r="0.61"/>
<circle cx="323" cy="132.5" r="0.94"/>
<circle cx="320.6" cy="136.8" r="0.97"/>
<circle cx="326.5" cy="133.6" r="1.02"/>
<circle cx="322.7" cy="135.5" r="0.68"/>
<circle cx="322.2" cy="137.3" r="0.96"/>
<circle cx="325.3" cy="131.6" r="0.99"/>
<circle cx="323.4" cy="137" r="0.81"/>
<circle cx="321.7" cy="136.9" r="0.71"/>
<circle cx="249.4" cy="162" r="1.1"/>
<circle cx="239.7" cy="175.9" r="1.2"/>
<circle cx="280.5" cy="224.9" r="0.8"/>
<circle cx="286.3" cy="255.6" r="0.9"/>
<circle cx="288.6" cy="276.8" r="1.0"/>
<circle cx="313.6" cy="340.7" r="1.0"/>
<circle cx="311.1" cy="341.1" r="0.8"/>
<circle cx="275.1" cy="474" r="0.9"/>
<circle cx="192.4" cy="457" r="1.2"/>
<circle cx="189.7" cy="642.1" r="0.9"/>
<circle cx="103.1" cy="778.8" r="0.9"/>
<circle cx="184.4" cy="195.5" r="1.0"/>
<circle cx="88.7" cy="343.2" r="0.9"/>
<circle cx="91.9" cy="342.8" r="0.9"/>
<circle cx="488.2" cy="373.9" r="0.8"/>
<circle cx="490.7" cy="371.8" r="0.8"/>
<circle cx="492.3" cy="376.5" r="0.8"/>
<circle cx="487.6" cy="376.5" r="0.8"/>
<circle cx="466.6" cy="412.9" r="0.9"/>
<circle cx="471.2" cy="413.5" r="0.9"/>
<circle cx="469.1" cy="408.3" r="0.8"/>
<circle cx="460.4" cy="345.1" r="0.9"/>
<circle cx="386.4" cy="505.5" r="0.9"/>
<circle cx="419.8" cy="573.4" r="1.2"/>
<circle cx="381.1" cy="584.2" r="1.5"/>
<circle cx="383.1" cy="590.9" r="1.0"/>
<circle cx="419.9" cy="573.4" r="1.0"/>
<circle cx="634.6" cy="170.9" r="0.8"/>
<circle cx="644.9" cy="172.8" r="0.9"/>
<circle cx="650.9" cy="189.9" r="0.9"/>
<circle cx="635.4" cy="186.8" r="1.2"/>
<circle cx="593.5" cy="208.6" r="1.0"/>
<circle cx="593" cy="215.9" r="1.0"/>
<circle cx="601.2" cy="214.6" r="1.0"/>
<circle cx="587" cy="226.7" r="0.9"/>
<circle cx="589.6" cy="225.3" r="0.8"/>
<circle cx="579.8" cy="243.7" r="0.9"/>
<circle cx="469.9" cy="311.5" r="1.0"/>
<circle cx="535.8" cy="294.9" r="0.8"/>
<circle cx="543" cy="293" r="0.9"/>
<circle cx="541.8" cy="300" r="1.0"/>
<circle cx="460.3" cy="345.2" r="0.8"/>
<circle cx="619.3" cy="443.1" r="0.7"/>
<circle cx="728.9" cy="464.9" r="0.9"/>
<circle cx="691" cy="534.7" r="0.6"/>
<circle cx="1126.9" cy="990.8" r="2.0"/>
<circle cx="1126.1" cy="1015.1" r="1.4"/>
<circle cx="1551.7" cy="358.4" r="1.7"/>
<circle cx="1546" cy="351" r="0.7"/>
<circle cx="359.5" cy="469.9" r="1.0"/>
<circle cx="307.4" cy="593.7" r="1.2"/>
<path d="M80.4 1046.6 L86.6 1046.4 L87.1 1049.2 L85.8 1049.8 L86.6 1052.5 L80.4 1052.5Z"/>
<circle cx="999.0" cy="205.3" r="0.8"/>
<circle cx="999.2" cy="207.3" r="0.8"/>
<circle cx="1000.6" cy="205" r="0.6"/>
<circle cx="1002.6" cy="206.6" r="0.6"/>
<circle cx="1011.3" cy="214.5" r="0.6"/>
<circle cx="988.2" cy="231.4" r="0.5"/>
<circle cx="1010.4" cy="203.8" r="0.5"/>
<path d="M1008.6 206.2h2.4v1.1h-2.4zM989.4 237.0h2v0.9h-2z" stroke="none"/>
<path d="M1027.6 101.4 L1029.6 102.3 L1031 102 L1032.8 101.4 L1032.2 103.4 L1030.4 104.8 L1028.6 103.8Z"/>
<circle cx="1035" cy="94.9" r="0.7"/>
</g>
<g fill="none" stroke="#000" stroke-width="1.39" stroke-dasharray="1.39 1.39">
<path d="M80.6 310.3H1621.4"/>
<path d="M80.6 538.6H1621.4"/>
<path d="M80.6 782.0H1621.4"/>
<path d="M80.6 1051.4H1621.4"/>
<path d="M299.9 1052.1V89.3"/>
<path d="M740.3 1052.1V89.3"/>
<path d="M1180.6 1052.1V89.3"/>
<path d="M1620.4 1052.1V89.3"/>
</g>
<g fill="none" stroke-linejoin="round" stroke-linecap="butt">
<g stroke="#c4c4c4" stroke-width="1.39">
<path d="M859.5 206.6 C859.7 207.4 859.9 209.8 860.8 211.7 C861.7 213.6 862.8 216.3 864.9 217.9 C867 219.5 870.2 220.4 873.1 221.5 C876 222.6 879 223.8 882.3 224.6 C885.5 225.4 889.2 225.9 892.6 226.1 C896 226.3 899.5 224.9 902.9 225.6 C906.3 226.3 909.5 228.5 913.2 230.2 C916.9 231.9 920.5 234.4 925 236 C929.5 237.6 935 240 940 240 C945 240 949.2 238 955 236 C960.8 234 968.3 230.5 975 228 C981.7 225.5 989.2 222.7 995 221 C1000.8 219.3 1004.1 218.9 1010 217.7 C1015.9 216.5 1023.6 214.5 1030.5 213.6 C1037.3 212.7 1043.4 211.8 1051.1 212.1 C1058.8 212.4 1068.2 213.9 1076.8 215.2 C1085.4 216.5 1093.9 218.4 1102.5 219.8 C1111.1 221.2 1119.7 222.5 1128.2 223.9 C1136.8 225.3 1145.2 226.7 1153.8 228 C1162.4 229.3 1174.6 231.2 1180 231.8 C1185.4 232.4 1183.2 232 1186.1 231.6 C1188.9 231.2 1193.4 229.7 1197.1 229.4 C1200.8 229.1 1204.5 229.2 1208 229.7 C1211.5 230.2 1216.4 232 1218.1 232.5"/>
<path d="M839.2 226.3 C837.8 226.6 833.8 227 831 228.2 C828.2 229.4 824.9 231.2 822.7 233.3 C820.6 235.4 819.1 238.1 818.1 240.5 C817.1 242.9 817.7 245.5 816.6 247.7 C815.5 249.9 812.8 252.4 811.4 253.8 C810 255.2 808.2 255.6 808.4 256.4 C808.6 257.2 810.8 257.6 812.5 258.5 C814.2 259.4 816.6 260.7 818.6 262.1 C820.6 263.5 823.2 265.2 824.8 266.7 C826.3 268.2 826.7 269.9 827.9 271.3 C829.1 272.7 832.5 274.4 832 275.2 C831.5 276 826 276.2 824.8 276.4"/>
<path d="M933.2 200.2 C931.9 201 928.3 203.3 925.5 205 C922.7 206.7 919.5 208.8 916.2 210.2 C913 211.6 909.4 212.5 906 213.3 C902.6 214.1 898.6 214.3 895.7 214.8 C892.8 215.3 889.9 215.5 888.5 216.3 C887.1 217.2 887.5 218.3 887.5 219.9 C887.5 221.5 887.8 223.9 888.5 226.1 C889.2 228.3 890.1 230.6 891.6 233.3 C893.1 236 895.8 240.1 897.7 242.5 C899.6 244.9 900.8 246.3 902.9 247.7 C905 249.1 906.9 250.1 910.1 250.8 C913.3 251.5 917.9 252.3 922 252 C926.1 251.7 932.8 249.5 935 249"/>
<path d="M1043.9 208 C1039.9 208.1 1027.3 208.2 1020 208.5 C1012.7 208.8 1005.8 209.3 1000 210 C994.2 210.7 989.2 212.1 985 212.5 C980.8 212.9 977.9 212.7 975 212.7 C972.1 212.7 970.2 212.2 967.6 212.5 C965 212.8 962.5 213.8 959.4 214.8 C956.3 215.8 952.5 217.6 949.1 218.4 C945.7 219.2 942.2 219.7 938.8 219.9 C935.4 220.2 932 220.1 928.6 219.9 C925.2 219.7 921.2 218.9 918.3 218.7 C915.4 218.4 912.9 218.1 911.1 218.4 C909.3 218.7 907.9 219.3 907.5 220.4 C907.1 221.5 907.5 223.3 909 225.1 C910.5 226.9 913.4 229 916.2 231.2 C919 233.3 922.4 236 926 238 C929.6 240 936 242.2 938 243"/>
<path d="M900 236 C897.9 235.1 891.3 231.9 887.5 230.7 C883.7 229.5 880.3 228.8 877.2 228.7 C874.1 228.6 870.7 228.9 869 230.2 C867.3 231.5 866.9 234.3 866.9 236.4 C866.9 238.5 867.3 240.6 869 242.5 C870.7 244.4 874.5 246.1 877.2 247.7 C879.9 249.2 882.4 250.8 885.4 251.8 C888.4 252.9 891.7 254 895 254 C898.3 254 903.3 252.3 905 252"/>
<path d="M897.7 223 C897.2 223.5 895.4 224.3 894.7 226 C894 227.7 894 230.6 893.6 233.3 C893.2 236.1 893.1 239.9 892.6 242.5 C892.1 245.1 891.6 247 890.6 248.7 C889.6 250.4 887.5 252 886.4 252.8 C885.3 253.7 884.1 253.4 883.9 253.8 C883.7 254.2 884.6 255.6 885.4 255.4 C886.2 255.2 887.5 253.9 888.5 252.8 C889.5 251.7 890.1 249 891.6 248.7 C893.1 248.4 895 250.5 897.7 250.8 C900.4 251.2 904.6 250.5 908 250.8 C911.4 251.1 916.6 252.5 918.3 252.8"/>
<path d="M919.3 257.9 C917.4 258.1 911.9 258.4 908 259 C904.1 259.6 899.6 260.5 895.7 261.5 C891.8 262.5 887 263.3 884.4 265.1 C881.8 266.9 881.2 269.2 880.3 272.3 C879.3 275.4 878.4 280.2 878.7 283.6 C879 287 881 290.4 882.3 292.9 C883.6 295.4 884.8 298 886.4 298.5 C888 299 890.1 297.3 891.6 296 C893.1 294.7 895 292.9 895.2 290.8 C895.4 288.7 893 286.3 892.6 283.6 C892.2 280.9 892.2 277.3 892.6 274.4 C893 271.5 893.7 268.8 894.7 266.2 C895.7 263.6 897.3 260.9 898.8 259 C900.3 257.1 903 255.6 903.9 254.9"/>
<path d="M922.4 254.9 C923.2 256.4 926.1 260.9 927.5 264.1 C928.9 267.4 930 271.1 930.6 274.4 C931.2 277.6 931.4 280.7 931.1 283.6 C930.8 286.5 929.5 290.2 928.6 291.9 C927.8 293.6 926.4 293.6 926 293.9"/>
<path d="M1043.9 208 C1046.8 207.7 1055.1 205.9 1061.4 205.9 C1067.7 205.9 1075.1 207 1081.9 208 C1088.8 209 1095.7 211 1102.5 212.1 C1109.3 213.2 1116.2 214.5 1123 214.7 C1129.8 214.9 1136.8 214 1143.6 213.1 C1150.4 212.2 1158.1 210.3 1164.1 209 C1170.1 207.7 1176.9 206 1179.5 205.4"/>
<path d="M940 226 C943.3 224.8 952.5 220.9 960 219 C967.5 217.1 977.5 215.2 985 214.5 C992.5 213.8 999.1 214.7 1005 214.5 C1010.9 214.3 1014.3 214.4 1020.3 213.6 C1026.3 212.8 1033.1 210.2 1040.8 209.5 C1048.5 208.8 1057.9 209.3 1066.5 209.5 C1075.1 209.7 1084.5 209.8 1092.2 210.5 C1099.9 211.2 1105.9 213.2 1112.7 213.6 C1119.5 213.9 1126.5 212.8 1133.3 212.6 C1140.1 212.3 1144.3 211.8 1153.8 212.1 C1163.2 212.3 1181.6 213.8 1190 214.1 C1198.4 214.4 1199 212.8 1204.4 213.9 C1209.8 215 1216.5 218.6 1222.6 220.6 C1228.7 222.6 1234.8 224.3 1240.9 226.1 C1247 227.9 1253.1 229.6 1259.2 231.6 C1265.3 233.6 1270.6 235.3 1277.4 238 C1284.2 240.7 1296.5 246 1300.3 247.6"/>
<path d="M925 244 C928.3 243.3 938.3 242 945 240 C951.7 238 957.5 234.3 965 232 C972.5 229.7 982.5 227.3 990 226 C997.5 224.7 1001.5 224.4 1010 223.9 C1018.5 223.4 1031.4 223.2 1040.8 222.9 C1050.2 222.7 1057.9 222.2 1066.5 222.4 C1075.1 222.6 1084.5 222.6 1092.2 223.9 C1099.9 225.2 1105.9 227.7 1112.7 230.1 C1119.5 232.5 1126.5 235.7 1133.3 238.3 C1140.1 240.9 1147.8 242.9 1153.8 245.5 C1159.8 248.1 1166.7 252.3 1169.3 253.7"/>
<path d="M930 250 C933.3 249.5 942.5 248.7 950 247 C957.5 245.3 967.5 242.2 975 240 C982.5 237.8 989.2 235.5 995 234 C1000.8 232.5 1003.2 232.4 1010 231.1 C1016.8 229.8 1027.1 228.1 1035.7 226 C1044.3 223.9 1052.8 220.2 1061.4 218.8 C1070 217.4 1079.4 218.2 1087.1 217.7 C1094.8 217.2 1101.6 216 1107.6 215.7 C1113.6 215.4 1115.9 215.5 1123 215.7 C1130.1 215.9 1141.3 216.4 1150 217 C1158.7 217.6 1170.8 218.7 1175 219"/>
<path d="M915 246 C919.2 246 931.7 246.5 940 246 C948.3 245.5 956.7 244.3 965 243 C973.3 241.7 982.5 239.1 990 238 C997.5 236.9 1001.5 236.1 1010 236.2 C1018.5 236.2 1030.5 237.4 1040.8 238.3 C1051.1 239.2 1061.3 241.1 1071.6 241.4 C1081.9 241.7 1092.2 240.7 1102.5 240.3 C1112.8 240 1123 239 1133.3 239.3 C1143.6 239.7 1154.6 241 1164.1 242.4 C1173.5 243.8 1184.3 246.3 1190 247.5 C1195.7 248.7 1196.7 249 1198 249.3"/>
<path d="M935 255 C939.2 254.5 951.7 253.2 960 252 C968.3 250.8 977.5 248.9 985 248 C992.5 247.1 998.3 247.3 1005 246.5 C1011.7 245.7 1017.7 245.6 1025.4 243.4 C1033.1 241.2 1043.4 235.4 1051.1 233.2 C1058.8 231 1063.9 230.8 1071.6 230.1 C1079.3 229.4 1089.6 228.8 1097.3 229 C1105 229.2 1111.9 230.6 1117.9 231.1 C1123.9 231.6 1128.7 231 1133.3 232.1 C1137.9 233.2 1143.5 236.9 1145.6 237.8"/>
<path d="M945 238 C949.2 237.7 961.7 235.7 970 236 C978.3 236.3 987.5 238.7 995 240 C1002.5 241.3 1007.7 243.6 1015 244 C1022.3 244.4 1031.9 243.3 1038.8 242.4 C1045.7 241.5 1049 238.8 1056.2 238.3 C1063.4 237.8 1074.2 238.3 1081.9 239.3 C1089.6 240.3 1099.1 243.6 1102.5 244.5"/>
<path d="M920 240 C924.2 240.5 936.7 241.8 945 243 C953.3 244.2 961.7 246.1 970 247 C978.3 247.9 988.3 248.4 995 248.5 C1001.7 248.6 1002.4 248.2 1010 247.5 C1017.6 246.8 1030.5 245.2 1040.8 244.5 C1051.1 243.8 1062.5 243.1 1071.6 243.4 C1080.7 243.7 1091.3 246 1095.3 246.5"/>
<path d="M1079.9 250.6 C1080.2 249.1 1080.9 244.3 1081.9 241.4 C1082.9 238.5 1084.5 235.8 1086 233.2 C1087.5 230.6 1089.5 227.2 1091.2 226 C1092.9 224.8 1095.5 226 1096.3 226"/>
<path d="M940 262 C944.2 262 956.7 262 965 262 C973.3 262 982.5 261.5 990 262 C997.5 262.5 1003.2 264.3 1010 265 C1016.8 265.7 1021.9 266.7 1030.5 266 C1039.1 265.3 1051.1 262.9 1061.4 260.9 C1071.7 258.8 1081.9 256.3 1092.2 253.7 C1102.5 251.1 1112.7 248.4 1123 245.5 C1133.3 242.6 1142.6 238.8 1153.8 236.2 C1165 233.6 1181.5 231.5 1190 230.1 C1198.5 228.7 1202.5 228.3 1205 228"/>
<path d="M950 258 C955 258.7 970 260.7 980 262 C990 263.3 1000.7 265.1 1010 266 C1019.3 266.9 1027.1 266.6 1035.7 267.1 C1044.3 267.6 1052 268.1 1061.4 269.1 C1070.8 270.1 1083.7 272.2 1092.2 273.2 C1100.8 274.2 1106.7 275.2 1112.7 275.3 C1118.7 275.4 1124.2 274.3 1128.2 273.7 C1132.2 273.1 1131.3 273.1 1136.4 271.7 C1141.5 270.3 1151 267.2 1158.7 265.4 C1166.4 263.6 1174.9 262.1 1182.5 260.8 C1190.1 259.5 1197.7 258.6 1204.4 257.7 C1211.1 256.8 1216.5 256.3 1222.6 255.3 C1228.7 254.3 1236 252.9 1240.9 251.7 C1245.8 250.5 1248.9 249.7 1251.9 248 C1255 246.3 1257.1 243.3 1259.2 241.6 C1261.3 239.9 1263.8 238.6 1264.7 238"/>
<path d="M960 268 C965 268 980 268.3 990 268 C1000 267.7 1011.8 266.7 1020.3 266 C1028.8 265.3 1034.8 263.6 1040.8 264 C1046.8 264.4 1051.1 266.4 1056.2 268.1 C1061.3 269.8 1067.8 272.4 1071.6 274.2 C1075.4 276 1078.4 277.9 1078.8 278.9 C1079.2 279.9 1074.9 279.3 1074.2 280.4 C1073.5 281.5 1073.8 283.8 1074.7 285.6 C1075.7 287.4 1079 290.3 1079.9 291.2"/>
<path d="M935 246 C939.2 246.7 951.7 248.7 960 250 C968.3 251.3 976.7 253.2 985 254 C993.3 254.8 999.2 254.3 1010 255 C1020.8 255.7 1035 257.7 1050 258 C1065 258.3 1083.3 258 1100 257 C1116.7 256 1136.2 253 1150 252 C1163.8 251 1173.4 251.4 1182.5 251.1 C1191.6 250.8 1196.2 250.9 1204.4 250.4 C1212.6 249.9 1224.2 248.6 1231.8 248 C1239.4 247.4 1243.9 246.9 1250 247.1 C1256.1 247.3 1262.8 247.9 1268.3 249.3 C1273.8 250.7 1277.7 252 1282.9 255.3 C1288.1 258.6 1294.2 265.2 1299.4 269 C1304.6 272.8 1308.5 275 1314 278.2 C1319.5 281.4 1328 286.1 1332.2 288.2 C1336.5 290.3 1337.1 290.3 1339.5 290.6 C1341.9 290.9 1345.6 290.1 1346.8 290"/>
<path d="M934.6 232.9 C939.8 233 955.2 233.9 965.6 233.6 C975.9 233.3 986.2 231.4 996.5 231 C1006.9 230.6 1017.2 231 1027.5 231.1 C1037.9 231.3 1048.2 231.6 1058.5 232.2 C1068.8 232.7 1079.2 234.7 1089.5 234.5 C1099.8 234.4 1110.1 232.1 1120.5 231.3 C1130.8 230.5 1141.1 230.5 1151.4 229.7 C1161.8 228.9 1177.3 227 1182.4 226.4"/>
<path d="M939.3 256.6 C942.5 256.8 952.2 257.6 958.6 257.8 C965.1 258.1 971.5 258.4 978 258 C984.5 257.6 990.9 256.4 997.4 255.3 C1003.8 254.2 1010.3 252 1016.7 251.4 C1023.2 250.8 1029.6 252.2 1036.1 251.6 C1042.5 251.1 1049 249.1 1055.5 248.1 C1061.9 247.1 1068.4 246.4 1074.8 245.6 C1081.3 244.8 1091 243.9 1094.2 243.5"/>
<path d="M931.2 223 C935.5 223.2 948.1 224 956.6 224.2 C965 224.3 973.5 223.9 981.9 224.2 C990.4 224.4 998.8 225.3 1007.3 225.5 C1015.7 225.6 1024.2 225.5 1032.6 225.1 C1041.1 224.8 1049.5 223 1058 223.3 C1066.4 223.7 1074.9 226 1083.3 227.3 C1091.8 228.6 1100.3 230.2 1108.7 231.3 C1117.2 232.4 1129.8 233.5 1134.1 234"/>
<path d="M926 236.1 C929.9 236.4 941.6 238 949.4 238.2 C957.2 238.4 965 237.1 972.8 237.4 C980.6 237.8 988.3 239.9 996.1 240.2 C1003.9 240.5 1011.7 238.8 1019.5 239.3 C1027.3 239.7 1035.1 241.9 1042.9 243 C1050.7 244 1058.4 245.9 1066.2 245.7 C1074 245.5 1081.8 242.8 1089.6 241.7 C1097.4 240.7 1109.1 239.8 1113 239.4"/>
<path d="M931.4 244.9 C936.8 245.1 952.8 245.4 963.5 246 C974.2 246.5 984.9 248.1 995.6 248.2 C1006.3 248.2 1017 247.2 1027.7 246.3 C1038.4 245.5 1049.1 243.8 1059.7 243 C1070.4 242.3 1081.1 241.3 1091.8 241.7 C1102.5 242.1 1113.2 244.4 1123.9 245.4 C1134.6 246.4 1145.3 247.6 1156 247.5 C1166.7 247.3 1182.7 244.9 1188 244.4"/>
<path d="M918.5 227.4 C922.2 227.5 933.3 227.9 940.7 227.9 C948.1 227.9 955.5 228 962.9 227.5 C970.3 227 977.7 225.1 985.1 225 C992.5 224.9 999.9 227.1 1007.3 226.9 C1014.7 226.7 1022.1 224.2 1029.4 223.9 C1036.8 223.6 1044.2 225.4 1051.6 225.1 C1059 224.8 1066.4 222.6 1073.8 222 C1081.2 221.4 1092.3 221.5 1096 221.4"/>
<path d="M924.4 227.3 C929.9 227.9 946.3 230.3 957.3 230.4 C968.2 230.6 979.2 228.6 990.1 228.1 C1001 227.6 1012 226.9 1022.9 227.3 C1033.9 227.6 1044.8 229.4 1055.8 230.1 C1066.7 230.8 1077.7 231.6 1088.6 231.2 C1099.5 230.9 1110.5 227.9 1121.4 228 C1132.4 228.2 1143.3 231.7 1154.3 231.9 C1165.2 232.2 1181.6 230 1187.1 229.7"/>
<path d="M1000 262 C1001.7 260.3 1006.3 255.2 1010 252 C1013.7 248.8 1017.8 245.5 1022 243 C1026.2 240.5 1030.3 238.7 1035 237 C1039.7 235.3 1044.2 234.8 1050 233 C1055.8 231.2 1066.7 227.2 1070 226"/>
<path d="M1003 255 C1005 253.5 1010.8 248.5 1015 246 C1019.2 243.5 1023.8 241.3 1028 240 C1032.2 238.7 1034.7 238.7 1040 238 C1045.3 237.3 1056.7 236.3 1060 236"/>
<path d="M1008 268 C1010 267 1015.5 263.7 1020 262 C1024.5 260.3 1030 258.8 1035 258 C1040 257.2 1043.3 256.8 1050 257 C1056.7 257.2 1070.8 258.7 1075 259"/>
<path d="M1018 262 C1018.8 260.3 1021.9 255 1023 252 C1024.1 249 1024.7 246.3 1024.5 244 C1024.3 241.7 1023.2 239.3 1022 238 C1020.8 236.7 1017.8 236.3 1017 236"/>
<path d="M985 250 C987.5 248.3 995 243.2 1000 240 C1005 236.8 1010 233.3 1015 231 C1020 228.7 1024.5 226.8 1030 226 C1035.5 225.2 1045 226 1048 226"/>
<path d="M990 244 C992.5 244.5 1000 246.2 1005 247 C1010 247.8 1014.2 249 1020 249 C1025.8 249 1033.3 247.5 1040 247 C1046.7 246.5 1056.7 246.2 1060 246"/>
</g>
<g stroke="#696969" stroke-width="1.39">
<path d="M1014 250.4 C1014.1 252.1 1014.8 257.2 1014.7 260.4 C1014.6 263.6 1014.2 266.8 1013.6 269.7 C1013 272.6 1011.4 275.4 1010.9 278.1 C1010.4 280.8 1010.2 283.1 1010.5 285.9 C1010.8 288.7 1012 292 1012.8 295.1 C1013.6 298.2 1014.7 301.7 1015.5 304.3 C1016.3 306.9 1017.1 309.8 1017.4 310.9"/>
<path d="M1017.4 310.9 C1017 309.5 1015.9 305.7 1014.7 302.8 C1013.5 299.9 1012 296.7 1010.1 293.6 C1008.2 290.5 1005.6 286.9 1003.2 284.3 C1000.8 281.7 998.7 279.6 995.5 278.1 C992.3 276.6 987.1 276.1 983.9 275.1 C980.7 274.1 979.4 273.6 976.2 272 C973 270.4 968.6 268.1 964.7 265.8 C960.9 263.5 957 260.7 953.1 258.1 C949.2 255.5 945.5 252.7 941.6 250.4 C937.8 248.1 933.9 246.3 930 244.2 C926.1 242.1 920 239 918 238"/>
<path d="M1010.9 278.1 C1009.8 279.9 1006.2 285.8 1004 288.9 C1001.8 292 1000.4 294.9 997.8 296.6 C995.2 298.3 991.7 298 988.6 298.9 C985.5 299.8 982.1 301.7 979.3 302 C976.5 302.3 973.3 301.4 971.6 300.5 C969.9 299.6 969.3 298 969.3 296.6 C969.3 295.2 969.9 293.5 971.6 292 C973.3 290.5 976.5 288.9 979.3 287.4 C982.1 285.9 985.3 284.2 988.6 282.8 C991.9 281.4 996.2 280.1 999.3 278.9 C1002.4 277.7 1005.7 276.3 1007 275.8"/>
<path d="M1013.2 296.6 C1012.2 297.4 1009.3 299.9 1007 301.3 C1004.7 302.7 1002.1 304 999.3 305.1 C996.5 306.2 992.9 307.4 990.1 307.8 C987.3 308.2 984.8 308.1 982.4 307.4 C980 306.7 978.1 305.4 975.5 303.6 C972.9 301.8 969.7 299.1 967 296.6 C964.3 294.2 961.6 291.5 959.3 288.9 C957 286.3 955.4 283.8 953.1 281.2 C950.8 278.6 948 276.1 945.4 273.5 C942.8 270.9 940.3 268 937.7 265.8 C935.1 263.6 932.8 262 930 260.4 C927.2 258.8 922.5 256.7 921 256"/>
<path d="M1014.7 267.4 C1015.7 268.2 1019.2 270.2 1020.9 272 C1022.6 273.8 1023.9 276.6 1024.8 278.1 C1025.7 279.6 1025.5 281.1 1026.3 281.2 C1027.1 281.3 1029 280.8 1029.4 278.9 C1029.9 277 1029.4 272.1 1029 269.7 C1028.6 267.3 1028.1 266.2 1027.1 264.3 C1026.1 262.4 1023.7 259.1 1023 258"/>
<path d="M1014.5 262 C1015.6 262.6 1018.3 265.2 1020.9 265.8 C1023.5 266.4 1028.2 264.8 1030.2 265.8 C1032.2 266.8 1032.7 269.6 1033.2 272 C1033.7 274.4 1033.6 278.8 1033.2 280.5 C1032.8 282.2 1031.5 282.9 1030.9 282 C1030.3 281.1 1030.2 277.4 1029.4 275.1 C1028.6 272.8 1026.6 269.2 1026 268"/>
<path d="M1015.5 269 C1015.8 270.5 1017.1 275.2 1017 278 C1016.9 280.8 1015.5 284.4 1014.8 286 C1014.1 287.6 1013.3 287.9 1012.8 287.4 C1012.3 286.9 1011.8 283.6 1011.6 282.8"/>
<path d="M1010.9 275.1 C1009 274.2 1003.8 271.6 999.3 269.7 C994.8 267.8 989 265.4 983.9 263.5 C978.8 261.6 973.6 260.3 968.5 258.1 C963.4 255.9 958.2 252.7 953.1 250.4 C948 248.1 941.6 245.7 937.7 244.2 C933.9 242.7 933.2 243.2 930 241.2 C926.8 239.2 922 235.3 918.3 232.3 C914.6 229.3 911.4 226.3 908 223 C904.6 219.7 901.1 215.9 897.7 212.7 C894.3 209.4 890.9 206.2 887.5 203.5 C884.1 200.8 880.3 198.3 877.2 196.8 C874.1 195.3 871.4 194.6 869 194.5 C866.6 194.4 864.3 195.2 862.8 196.3 C861.2 197.5 860.2 199.7 859.7 201.4 C859.2 203.1 859.5 205.7 859.5 206.6"/>
<path d="M1007 278.1 C1004.4 277.6 996.7 276.5 991.6 275.1 C986.5 273.7 981.3 271.5 976.2 269.7 C971.1 267.9 965.9 266.5 960.8 264.3 C955.7 262.1 950.5 258.9 945.4 256.6 C940.3 254.3 933.7 252.8 930 250.4 C926.3 248.1 927.1 244.7 923.4 242.5 C919.7 240.3 913.1 238.9 908 237.4 C902.9 235.9 896.9 234.7 892.6 233.3 C888.3 231.9 885.7 230.4 882.3 229.2 C878.9 228 876.4 226.8 872.1 226.1 C867.8 225.4 862.1 225.1 856.6 225.1 C851.1 225.1 842.1 226.1 839.2 226.3"/>
<path d="M1003.2 281.2 C1000 281.2 989.7 282 983.9 281.2 C978.1 280.4 973.6 278.9 968.5 276.6 C963.4 274.3 957.6 270.5 953.1 267.4 C948.6 264.3 945.5 260.3 941.6 258.1 C937.8 255.9 934.4 255.8 930 254.3 C925.6 252.8 919.7 250.5 915 249 C910.3 247.5 905.7 246.5 902 245.5 C898.3 244.5 894.8 243.9 893 243 C891.2 242.1 891.5 241.4 891.3 240 C891.1 238.6 891.5 235.2 891.6 234.3"/>
<path d="M999.3 284.3 C996.1 284.6 985.9 286.3 980.1 285.8 C974.3 285.3 969.8 283.9 964.7 281.2 C959.6 278.5 953.8 273.2 949.3 269.7 C944.8 266.2 940.9 262.5 937.7 260.4 C934.5 258.3 933.5 258.7 930 257.3 C926.5 255.9 921.2 253.4 917 252 C912.8 250.6 907 249.5 905 249"/>
<path d="M995.5 288.9 C992.3 289.2 982 291.3 976.2 290.5 C970.4 289.7 965.7 287.1 960.8 284.3 C955.9 281.5 951 276.3 946.9 273.5 C942.8 270.7 939 268.7 936.2 267.4 C933.4 266.1 933 266.9 930 265.8 C927 264.7 922 262.5 918 261 C914 259.5 909.3 258.2 906 257 C902.7 255.8 899.3 254.5 898 254"/>
<path d="M1013.3 250.5 C1013.5 252.4 1014.6 259 1014.1 262 C1013.6 265 1015.2 266.8 1010.5 268.5 C1005.7 270.1 992.3 272.6 985.6 271.9 C979 271.3 975.7 267.2 970.7 264.6 C965.7 262 960.8 258.5 955.8 256.4 C950.8 254.3 945.8 253 940.9 252.1 C935.9 251.2 930.9 251.2 926 250.9 C921 250.7 913.5 250.6 911 250.6"/>
<path d="M1015.1 250.5 C1015 252.4 1015 257.8 1014.2 262 C1013.5 266.2 1013 274.4 1010.6 275.8 C1008.1 277.2 1004.3 272.9 999.6 270.6 C994.9 268.4 988.2 264.7 982.5 262.2 C976.8 259.8 971 257.9 965.3 256.1 C959.6 254.3 953.9 252.7 948.2 251.5 C942.5 250.4 936.8 249.5 931.1 249.2 C925.4 248.9 916.8 249.8 913.9 249.9"/>
<path d="M1013.9 250.5 C1014 252.4 1014.9 259 1014.1 262 C1013.4 265 1012.2 266.3 1009.3 268.5 C1006.3 270.7 1001 275.4 996.6 275.1 C992.2 274.8 987.5 269.3 982.9 266.8 C978.4 264.3 973.8 261.6 969.2 260.1 C964.7 258.5 960.1 258.9 955.6 257.4 C951 256 946.5 253.4 941.9 251.5 C937.4 249.5 930.5 246.5 928.3 245.5"/>
<path d="M1014.3 250.5 C1014.3 252.4 1014.4 258.1 1014.1 262 C1013.8 265.9 1014.6 270.8 1012.5 273.8 C1010.4 276.8 1005.8 281.5 1001.7 280 C997.6 278.5 992.5 268.4 987.9 264.9 C983.3 261.4 978.8 260.8 974.2 259 C969.6 257.2 965 257.2 960.4 254.3 C955.9 251.4 951.3 244.4 946.7 241.6 C942.1 238.9 935.2 238.4 933 237.8"/>
<path d="M1014.3 250.5 C1014.5 252.4 1015.8 258.2 1015.1 262 C1014.4 265.8 1013.6 269.9 1010.3 273.6 C1006.9 277.2 999.5 283.9 994.9 284.1 C990.2 284.2 986.4 276.6 982.2 274.4 C978 272.2 973.8 272.4 969.6 270.9 C965.4 269.5 961.2 268.2 957 265.7 C952.8 263.1 948.6 257.9 944.4 255.6 C940.1 253.3 933.8 252.5 931.7 251.8"/>
<path d="M1015.2 250.5 C1015.1 252.4 1015.8 258.6 1015 262 C1014.1 265.4 1015.1 266.8 1010.1 271.1 C1005.2 275.4 991.3 286.9 985.4 287.7 C979.5 288.6 978.4 280 974.9 276.3 C971.4 272.6 967.9 268.6 964.5 265.4 C961 262.3 957.5 260.1 954 257.6 C950.5 255 947 251.4 943.5 250.1 C940 248.9 934.8 250 933.1 249.9"/>
<path d="M1014.9 250.5 C1014.6 252.4 1013.4 258.4 1012.7 262 C1012.1 265.6 1013.1 267.3 1010.8 272.4 C1008.5 277.5 1003.7 291.1 998.9 292.7 C994.1 294.2 987.7 286.2 982.1 281.8 C976.5 277.4 970.9 270 965.3 266 C959.7 262 954.1 260.8 948.5 257.8 C942.9 254.9 937.3 250.7 931.7 248.5 C926.1 246.3 917.7 245.5 914.9 244.8"/>
<path d="M1013.7 250.5 C1013.6 252.4 1013.7 258.3 1013.2 262 C1012.7 265.7 1015.6 267.7 1010.9 272.7 C1006.3 277.7 991.8 291.6 985.1 292.1 C978.3 292.7 975.2 280.6 970.3 276 C965.3 271.3 960.4 267.5 955.5 264.1 C950.5 260.7 945.6 258 940.6 255.6 C935.7 253.1 930.8 252.4 925.8 249.4 C920.9 246.5 913.5 239.9 911 237.9"/>
<path d="M1013.3 250.5 C1013.6 252.4 1015.4 257.9 1015.2 262 C1015 266.1 1016 268.9 1012.1 275 C1008.2 281.1 997.1 297.3 991.7 298.7 C986.2 300.2 983.4 288.5 979.3 283.9 C975.1 279.2 971 273.8 966.9 270.9 C962.8 268 958.6 269.4 954.5 266.4 C950.4 263.3 946.2 256.2 942.1 252.5 C938 248.9 931.8 245.7 929.7 244.3"/>
<path d="M1013.3 250.5 C1013.2 252.4 1013.1 258.9 1012.5 262 C1011.9 265.1 1014.1 262.9 1009.6 268.8 C1005.1 274.7 991.9 294.8 985.4 297.5 C978.9 300.2 975.6 289.4 970.6 285 C965.7 280.6 960.8 275.8 955.9 271 C950.9 266.2 946 260.2 941.1 256.2 C936.1 252.3 931.2 250.2 926.3 247.3 C921.4 244.4 914 240.2 911.5 238.8"/>
<path d="M1011.6 293.8 C1011.1 294.2 1010.1 295.9 1008.8 296.6 C1007.6 297.3 1005.8 297.8 1004.3 297.9 C1002.7 298.1 1000.7 297.9 999.3 297.5 C997.8 297 996.4 296.2 995.5 295.3 C994.6 294.4 994 293.2 994 292.1 C994 291 994.5 289.8 995.3 288.9 C996.2 287.9 997.6 287.1 999.1 286.6 C1000.5 286.1 1002.4 285.9 1004 286 C1005.6 286.2 1007.4 286.7 1008.6 287.3 C1009.9 288 1011 289.6 1011.5 290.1"/>
<path d="M1002.5 304.2 C1001.4 304.3 998.2 305 996.1 305 C993.9 305 991.4 304.7 989.6 304.2 C987.8 303.8 986.1 303 985.2 302.2 C984.2 301.3 983.8 300.3 984.1 299.4 C984.3 298.5 985.4 297.5 986.7 296.8 C988.1 296.1 990.2 295.5 992.2 295.3 C994.3 295 996.8 294.9 998.9 295.2 C1001 295.4 1003.2 295.9 1004.7 296.6 C1006.2 297.2 1007.4 298.2 1007.8 299 C1008.2 299.9 1007.3 301.4 1007.2 301.8"/>
<path d="M1005.9 307.3 C1005.6 306.8 1004.3 305.6 1003.8 304.4 C1003.3 303.2 1003 301.5 1003 300.1 C1003 298.7 1003.3 297 1003.8 295.8 C1004.2 294.6 1005 293.4 1005.8 292.8 C1006.6 292.2 1007.7 291.9 1008.6 292.1 C1009.5 292.2 1010.5 292.9 1011.1 293.8 C1011.8 294.7 1012.5 296.1 1012.7 297.4 C1013 298.8 1013.1 300.5 1012.9 301.9 C1012.6 303.3 1012.1 304.8 1011.5 305.8 C1010.8 306.8 1009.4 307.5 1009 307.8"/>
<path d="M998.8 293.4 C998.1 293.8 996.4 295.5 994.8 296.1 C993.3 296.7 991.2 297.1 989.4 297 C987.6 296.9 985.6 296.4 984.1 295.7 C982.7 294.9 981.4 293.8 980.7 292.6 C980.1 291.4 979.8 289.9 980.2 288.7 C980.5 287.5 981.5 286.1 982.7 285.2 C983.9 284.3 985.8 283.5 987.5 283.2 C989.2 282.9 991.4 283 993.1 283.3 C994.8 283.7 996.5 284.6 997.7 285.5 C998.8 286.5 999.5 288.5 999.9 289.1"/>
<path d="M1023.9 284.8 C1023.7 285.5 1023.4 288.1 1022.9 289.2 C1022.4 290.4 1021.6 291.4 1021 291.7 C1020.3 292.1 1019.4 292 1018.7 291.5 C1018 291 1017.3 289.9 1016.9 288.7 C1016.4 287.4 1016.1 285.6 1016 284 C1015.9 282.4 1016.1 280.5 1016.4 279.1 C1016.7 277.6 1017.3 276.2 1017.9 275.3 C1018.5 274.5 1019.3 274 1020 274 C1020.8 274 1021.6 274.6 1022.2 275.5 C1022.8 276.3 1023.4 278.6 1023.6 279.3"/>
<path d="M1023.4 253.7 C1023.6 252.3 1023.9 248.4 1024.4 245.5 C1024.9 242.6 1025.6 239.3 1026.4 236.2 C1027.2 233.1 1028.3 230.1 1029.5 227 C1030.7 223.9 1031.9 220.7 1033.6 217.7 C1035.3 214.7 1038.8 210.4 1039.8 209"/>
<path d="M918 232.5 C916.8 231.2 912.8 226.9 911 225 C909.2 223.1 907.8 221.8 907.5 221 C907.2 220.2 908.1 219.7 909 220.3 C909.9 220.9 911.3 222.6 913 224.5 C914.7 226.4 918 230.3 919 231.5"/>
<path d="M1015 262 C1015.7 265.3 1018.9 278.6 1019.4 281.9 C1020 285.2 1018.6 282 1018.2 281.6 C1017.8 281.2 1017.4 280.5 1017.1 279.6 C1016.9 278.7 1016.6 277.5 1016.5 276.3 C1016.4 275.2 1016.4 273.7 1016.4 272.5 C1016.5 271.3 1016.7 270 1017 269.1 C1017.2 268.1 1017.6 267.2 1017.9 266.7 C1018.3 266.2 1018.8 265.9 1019.2 266 C1019.6 266.1 1020 266.5 1020.3 267.1 C1020.7 267.8 1021 268.8 1021.2 269.8 C1021.4 270.9 1021.6 272.2 1021.6 273.5 C1021.6 274.7 1021.5 276.1 1021.4 277.2 C1021.2 278.4 1020.7 279.7 1020.6 280.3"/>
<path d="M1015 262 C1016.5 265.6 1022.9 280 1024.2 283.5 C1025.5 286.9 1023.3 283.3 1022.9 282.8 C1022.5 282.3 1022.1 281.4 1021.8 280.3 C1021.5 279.3 1021.3 277.9 1021.3 276.7 C1021.2 275.4 1021.2 273.9 1021.3 272.6 C1021.4 271.3 1021.7 270 1022 269.1 C1022.3 268.2 1022.7 267.4 1023.1 266.9 C1023.5 266.5 1024 266.4 1024.4 266.6 C1024.9 266.8 1025.3 267.4 1025.7 268.2 C1026 269 1026.3 270.1 1026.5 271.3 C1026.7 272.5 1026.8 274 1026.8 275.3 C1026.8 276.6 1026.6 278 1026.4 279.2 C1026.2 280.3 1025.7 281.6 1025.5 282.1"/>
<path d="M1015 262 C1017.3 265.3 1026.8 278.8 1028.9 282 C1031 285.2 1028.1 281.6 1027.7 281 C1027.4 280.4 1027 279.4 1026.8 278.4 C1026.6 277.3 1026.5 276 1026.4 274.8 C1026.4 273.5 1026.4 272.1 1026.6 271 C1026.7 269.8 1027 268.7 1027.3 267.9 C1027.6 267.1 1028 266.5 1028.4 266.2 C1028.8 265.9 1029.3 266 1029.7 266.3 C1030.1 266.6 1030.5 267.3 1030.8 268.1 C1031.1 268.9 1031.3 270.1 1031.4 271.3 C1031.6 272.4 1031.6 273.8 1031.6 275.1 C1031.5 276.3 1031.4 277.6 1031.1 278.6 C1030.9 279.6 1030.3 280.7 1030.2 281.1"/>
<path d="M1015 262 C1015.3 266.1 1016.9 282.6 1017.1 286.8 C1017.3 290.9 1016.4 287.1 1016 286.9 C1015.7 286.7 1015.4 286.2 1015.1 285.6 C1014.8 285 1014.6 284.2 1014.5 283.3 C1014.3 282.5 1014.3 281.4 1014.3 280.5 C1014.3 279.6 1014.5 278.6 1014.6 277.8 C1014.8 277 1015.1 276.3 1015.4 275.8 C1015.7 275.3 1016.1 275 1016.4 275 C1016.8 275 1017.1 275.2 1017.4 275.6 C1017.7 276 1018 276.6 1018.3 277.4 C1018.5 278.1 1018.6 279.1 1018.7 280 C1018.7 280.9 1018.7 282 1018.6 282.9 C1018.5 283.7 1018.1 284.9 1018 285.3"/>
<path d="M1012 262 C1011.3 260.3 1009 255 1008 252 C1007 249 1006.1 245.8 1006 244 C1005.9 242.2 1006.7 241.6 1007.5 241.5 C1008.3 241.4 1009.9 242.4 1011 243.5 C1012.1 244.6 1013 246.6 1014 248 C1015 249.4 1016.5 251.3 1017 252"/>
</g>
<path d="M924.5 236.2 C923.7 236.3 920.5 237.2 919.5 237 C918.5 236.8 918.1 235.8 918.2 235 C918.3 234.2 919 233 920.2 232 C921.5 231 923.7 229.9 925.7 228.9 C927.8 227.9 929.9 227 932.5 226 C935.1 225 938.5 223.3 941.1 222.8 C943.7 222.3 944.9 222.5 948 222.8 C951.1 223.1 955.8 224.2 959.9 224.6 C964 225 968.5 225.2 972.8 225.3 C977.1 225.4 981.3 225.3 985.6 225.1 C989.9 224.8 994.9 224.3 998.5 223.8 C1002.1 223.3 1004.4 222.7 1007 222.3 C1009.6 221.9 1012.8 221.5 1013.9 221.3" stroke="#ee60f0" stroke-width="4.17" stroke-linecap="square"/>
<path d="M1012.6 253 C1012.7 254.4 1014.3 259.3 1013.4 261.5 C1012.5 263.7 1009.5 265.1 1007 266.1 C1004.5 267.2 1000.9 266.8 998.5 267.8 C996.1 268.8 994.5 271 992.5 272.1 C990.5 273.2 988.2 274.2 986.5 274.2 C984.8 274.2 984.1 273.9 982.2 272.1 C980.3 270.3 977.6 265.8 975.3 263.5 C973 261.2 971.1 260.2 968.5 258.4 C965.9 256.5 962.8 254.3 959.9 252.4 C957 250.5 954.2 248.8 951.4 247.2 C948.5 245.6 945.7 244.3 942.8 242.9 C939.9 241.5 936.6 239.8 934.2 238.7 C931.8 237.6 930.2 237 928.3 236.5 C926.4 236 923.6 236 922.7 235.9" stroke="#8b008b" stroke-width="4.17" stroke-linecap="square"/>
<path d="M1014.1 251.4 C1014.4 252.8 1016.5 257.3 1016 260 C1015.5 262.7 1013.2 265.3 1011.3 267.8 C1009.4 270.3 1007.4 273.5 1004.5 275.1 C1001.6 276.7 997.9 276.6 994.2 277.2 C990.5 277.8 985.5 278.6 982.2 278.5 C978.9 278.4 976.2 277.4 974.5 276.3 C972.8 275.2 972.4 274.2 971.9 272.1 C971.4 270 971.9 266.4 971.5 263.5 C971.1 260.6 970.2 257.5 969.8 254.9 C969.4 252.3 969 250.4 969.3 248.1 C969.6 245.8 970.5 242.9 971.5 241.2 C972.5 239.5 973.9 238.4 975.3 237.8 C976.6 237.2 978.3 237 979.6 237.4 C980.9 237.8 982 238.9 983 240.4 C984 241.9 984.5 244.1 985.6 246.4 C986.8 248.7 988.6 251.4 989.9 254.1 C991.2 256.8 992.2 259.9 993.3 262.6 C994.4 265.3 995.6 268.2 996.7 270.3 C997.9 272.4 998.9 274.3 1000.2 275.1 C1001.5 275.9 1002.6 276.4 1004.5 275.3 C1006.4 274.2 1009.3 270.5 1011.3 268.6 C1013.2 266.7 1013.9 266.1 1016.2 264 C1018.6 261.9 1021.6 258 1025.4 255.8 C1029.2 253.6 1034.5 251.8 1038.8 250.6 C1043.1 249.4 1047.3 248.6 1051.1 248.6 C1054.9 248.6 1057.1 249.7 1061.4 250.6 C1065.7 251.5 1072 253.3 1076.8 254.2 C1081.6 255.1 1086.7 254.9 1090.1 255.8 C1093.5 256.8 1094.7 258.3 1097.3 259.9 C1099.9 261.5 1102.4 263.9 1105.5 265.5 C1108.6 267.1 1112.4 268.6 1115.8 269.6 C1119.2 270.6 1123.3 271.3 1126.1 271.7 C1128.9 272.1 1131.5 271.9 1132.6 271.9 L1133.9 273.0 L1134.4 276 L1134.9 282.5 L1136.1 290.7" stroke="#000" stroke-width="4.17" stroke-linecap="square"/>
</g>
</g>
<rect x="80.6" y="89.3" width="1540.8" height="962.8" fill="none" stroke="#000" stroke-width="1.11"/>
<g class="b" font-size="21.8" letter-spacing="-0.87">
<text x="9.5" y="316.0">10°S</text>
<text x="9.5" y="544.4">20°S</text>
<text x="9.5" y="787.8">30°S</text>
<text x="273.3" y="1082.8">40°E</text>
<text x="713.7" y="1082.8">60°E</text>
<text x="1154" y="1082.8">80°E</text>
<text x="1585.9" y="1082.8">100°E</text>
</g>
<rect x="1274.5" y="874.6" width="339.2" height="168.9" rx="3.2" ry="3.2" fill="#fff" stroke="#000" stroke-width="1.11"/>
<path d="M1280.8 887.3H1315.1" stroke="#696969" stroke-width="1.39" fill="none"/>
<path d="M1280.8 910.5H1315.1" stroke="#ff4500" stroke-width="1.39" fill="none"/>
<path d="M1280.8 933.6H1315.1" stroke="#808000" stroke-width="1.39" fill="none"/>
<path d="M1280.8 957.2H1315.1" stroke="#008000" stroke-width="1.39" fill="none"/>
<path d="M1280.8 980.0H1314.1" stroke="#8b008b" stroke-width="4.17" stroke-linecap="square" fill="none"/>
<path d="M1280.8 1002.9H1314.1" stroke="#000" stroke-width="4.17" stroke-linecap="square" fill="none"/>
<g font-size="16.67">
<text x="1326.9" y="892.9">No Interception</text>
<text x="1326.9" y="916.1">Interception from Named cyclone</text>
<text x="1326.9" y="939.3">Interception from Trochoid</text>
<text x="1326.9" y="962.8">Interception from both</text>
<text x="1326.9" y="986.0">HRES</text>
<text x="1326.9" y="1010.1">Analysis | 238h duration</text>
<text x="1326.9" y="1033.9">TC obs. for analysis duration</text>
</g>
<text class="b" font-size="16.6" x="1298.3" y="1035" text-anchor="middle" stroke="#000" stroke-width="0.8">↺</text>
<rect x="1665.7" y="892.4" width="19.8" height="47.5" fill="#d4e4f4"/>
<rect x="1665.7" y="845.5" width="19.8" height="47.5" fill="#cadef0"/>
<rect x="1665.7" y="798.6" width="19.8" height="47.5" fill="#bcd7eb"/>
<rect x="1665.7" y="751.7" width="19.8" height="47.5" fill="#aacfe5"/>
<rect x="1665.7" y="704.8" width="19.8" height="47.5" fill="#99c7e0"/>
<rect x="1665.7" y="657.9" width="19.8" height="47.5" fill="#82bbdb"/>
<rect x="1665.7" y="611" width="19.8" height="47.5" fill="#6dafd7"/>
<rect x="1665.7" y="564.2" width="19.8" height="47.5" fill="#5ba3d0"/>
<rect x="1665.7" y="517.3" width="19.8" height="47.5" fill="#4997c9"/>
<rect x="1665.7" y="470.4" width="19.8" height="47.5" fill="#3a8ac2"/>
<rect x="1665.7" y="423.5" width="19.8" height="47.5" fill="#2c7cba"/>
<rect x="1665.7" y="376.6" width="19.8" height="47.5" fill="#1f6eb3"/>
<rect x="1665.7" y="329.7" width="19.8" height="47.5" fill="#1460a8"/>
<rect x="1665.7" y="282.8" width="19.8" height="47.5" fill="#09529d"/>
<rect x="1665.7" y="235.9" width="19.8" height="47.5" fill="#08458a"/>
<rect x="1665.7" y="189" width="19.8" height="47.5" fill="#083674"/>
<rect x="1665.7" y="189.3" width="19.8" height="750.3" fill="none" stroke="#000" stroke-width="1.11"/>
<g font-size="13.5">
<path d="M1685.5 939.6h4.9" stroke="#000" stroke-width="1.11"/>
<text x="1694.8" y="945">0</text>
<path d="M1685.5 822.4h4.9" stroke="#000" stroke-width="1.11"/>
<text x="1694.8" y="827.8">5</text>
<path d="M1685.5 705.1h4.9" stroke="#000" stroke-width="1.11"/>
<text x="1694.8" y="710.5">10</text>
<path d="M1685.5 587.9h4.9" stroke="#000" stroke-width="1.11"/>
<text x="1694.8" y="593.3">15</text>
<path d="M1685.5 470.7h4.9" stroke="#000" stroke-width="1.11"/>
<text x="1694.8" y="476.1">20</text>
<path d="M1685.5 353.4h4.9" stroke="#000" stroke-width="1.11"/>
<text x="1694.8" y="358.8">25</text>
<path d="M1685.5 236.2h4.9" stroke="#000" stroke-width="1.11"/>
<text x="1694.8" y="241.6">30</text>
</g>
<text class="b" font-size="19.44" text-anchor="middle" transform="translate(1736.9 608.6) rotate(-90)">Named cyclones forecast - Number of GEFS within 120km</text>
<rect x="25.1" y="1137.7" width="1640.7" height="40.2" fill="#9e0142" stroke="#000" stroke-width="1.11"/>
<g stroke="#000" stroke-width="1.11" fill="none">
<path d="M25.1 1158.3h-4.9"/>
<path d="M25.1 1177.9v4.9"/>
<path d="M66.1 1177.9v4.9"/>
<path d="M107.1 1177.9v4.9"/>
<path d="M148.2 1177.9v4.9"/>
<path d="M189.2 1177.9v4.9"/>
<path d="M230.2 1177.9v4.9"/>
<path d="M271.2 1177.9v4.9"/>
<path d="M312.2 1177.9v4.9"/>
<path d="M353.2 1177.9v4.9"/>
<path d="M394.3 1177.9v4.9"/>
<path d="M435.3 1177.9v4.9"/>
<path d="M476.3 1177.9v4.9"/>
<path d="M517.3 1177.9v4.9"/>
<path d="M558.3 1177.9v4.9"/>
<path d="M599.3 1177.9v4.9"/>
<path d="M640.4 1177.9v4.9"/>
<path d="M681.4 1177.9v4.9"/>
<path d="M722.4 1177.9v4.9"/>
<path d="M763.4 1177.9v4.9"/>
<path d="M804.4 1177.9v4.9"/>
<path d="M845.5 1177.9v4.9"/>
<path d="M886.5 1177.9v4.9"/>
<path d="M927.5 1177.9v4.9"/>
<path d="M968.5 1177.9v4.9"/>
<path d="M1009.5 1177.9v4.9"/>
<path d="M1050.5 1177.9v4.9"/>
<path d="M1091.6 1177.9v4.9"/>
<path d="M1132.6 1177.9v4.9"/>
<path d="M1173.6 1177.9v4.9"/>
<path d="M1214.6 1177.9v4.9"/>
<path d="M1255.6 1177.9v4.9"/>
<path d="M1296.6 1177.9v4.9"/>
<path d="M1337.7 1177.9v4.9"/>
<path d="M1378.7 1177.9v4.9"/>
<path d="M1419.7 1177.9v4.9"/>
<path d="M1460.7 1177.9v4.9"/>
<path d="M1501.7 1177.9v4.9"/>
<path d="M1542.7 1177.9v4.9"/>
<path d="M1583.8 1177.9v4.9"/>
<path d="M1624.8 1177.9v4.9"/>
<path d="M1665.8 1177.9v4.9"/>
</g>
<g class="b" font-size="16.67" text-anchor="middle">
<text x="25.1" y="1200">0h</text>
<text x="189.2" y="1200">12h</text>
<text x="353.2" y="1200">24h</text>
<text x="517.3" y="1200">36h</text>
<text x="681.4" y="1200">48h</text>
<text x="845.5" y="1200">60h</text>
<text x="1009.5" y="1200">72h</text>
<text x="1173.6" y="1200">84h</text>
<text x="1337.7" y="1200">96h</text>
<text x="1501.7" y="1200">108h</text>
<text x="1665.8" y="1200">120h</text>
</g>
<text class="b" font-size="16.67" x="865" y="1121" text-anchor="middle">Percentage of flying ballons within a TC as a function of flight time</text>
</svg></body></html>
